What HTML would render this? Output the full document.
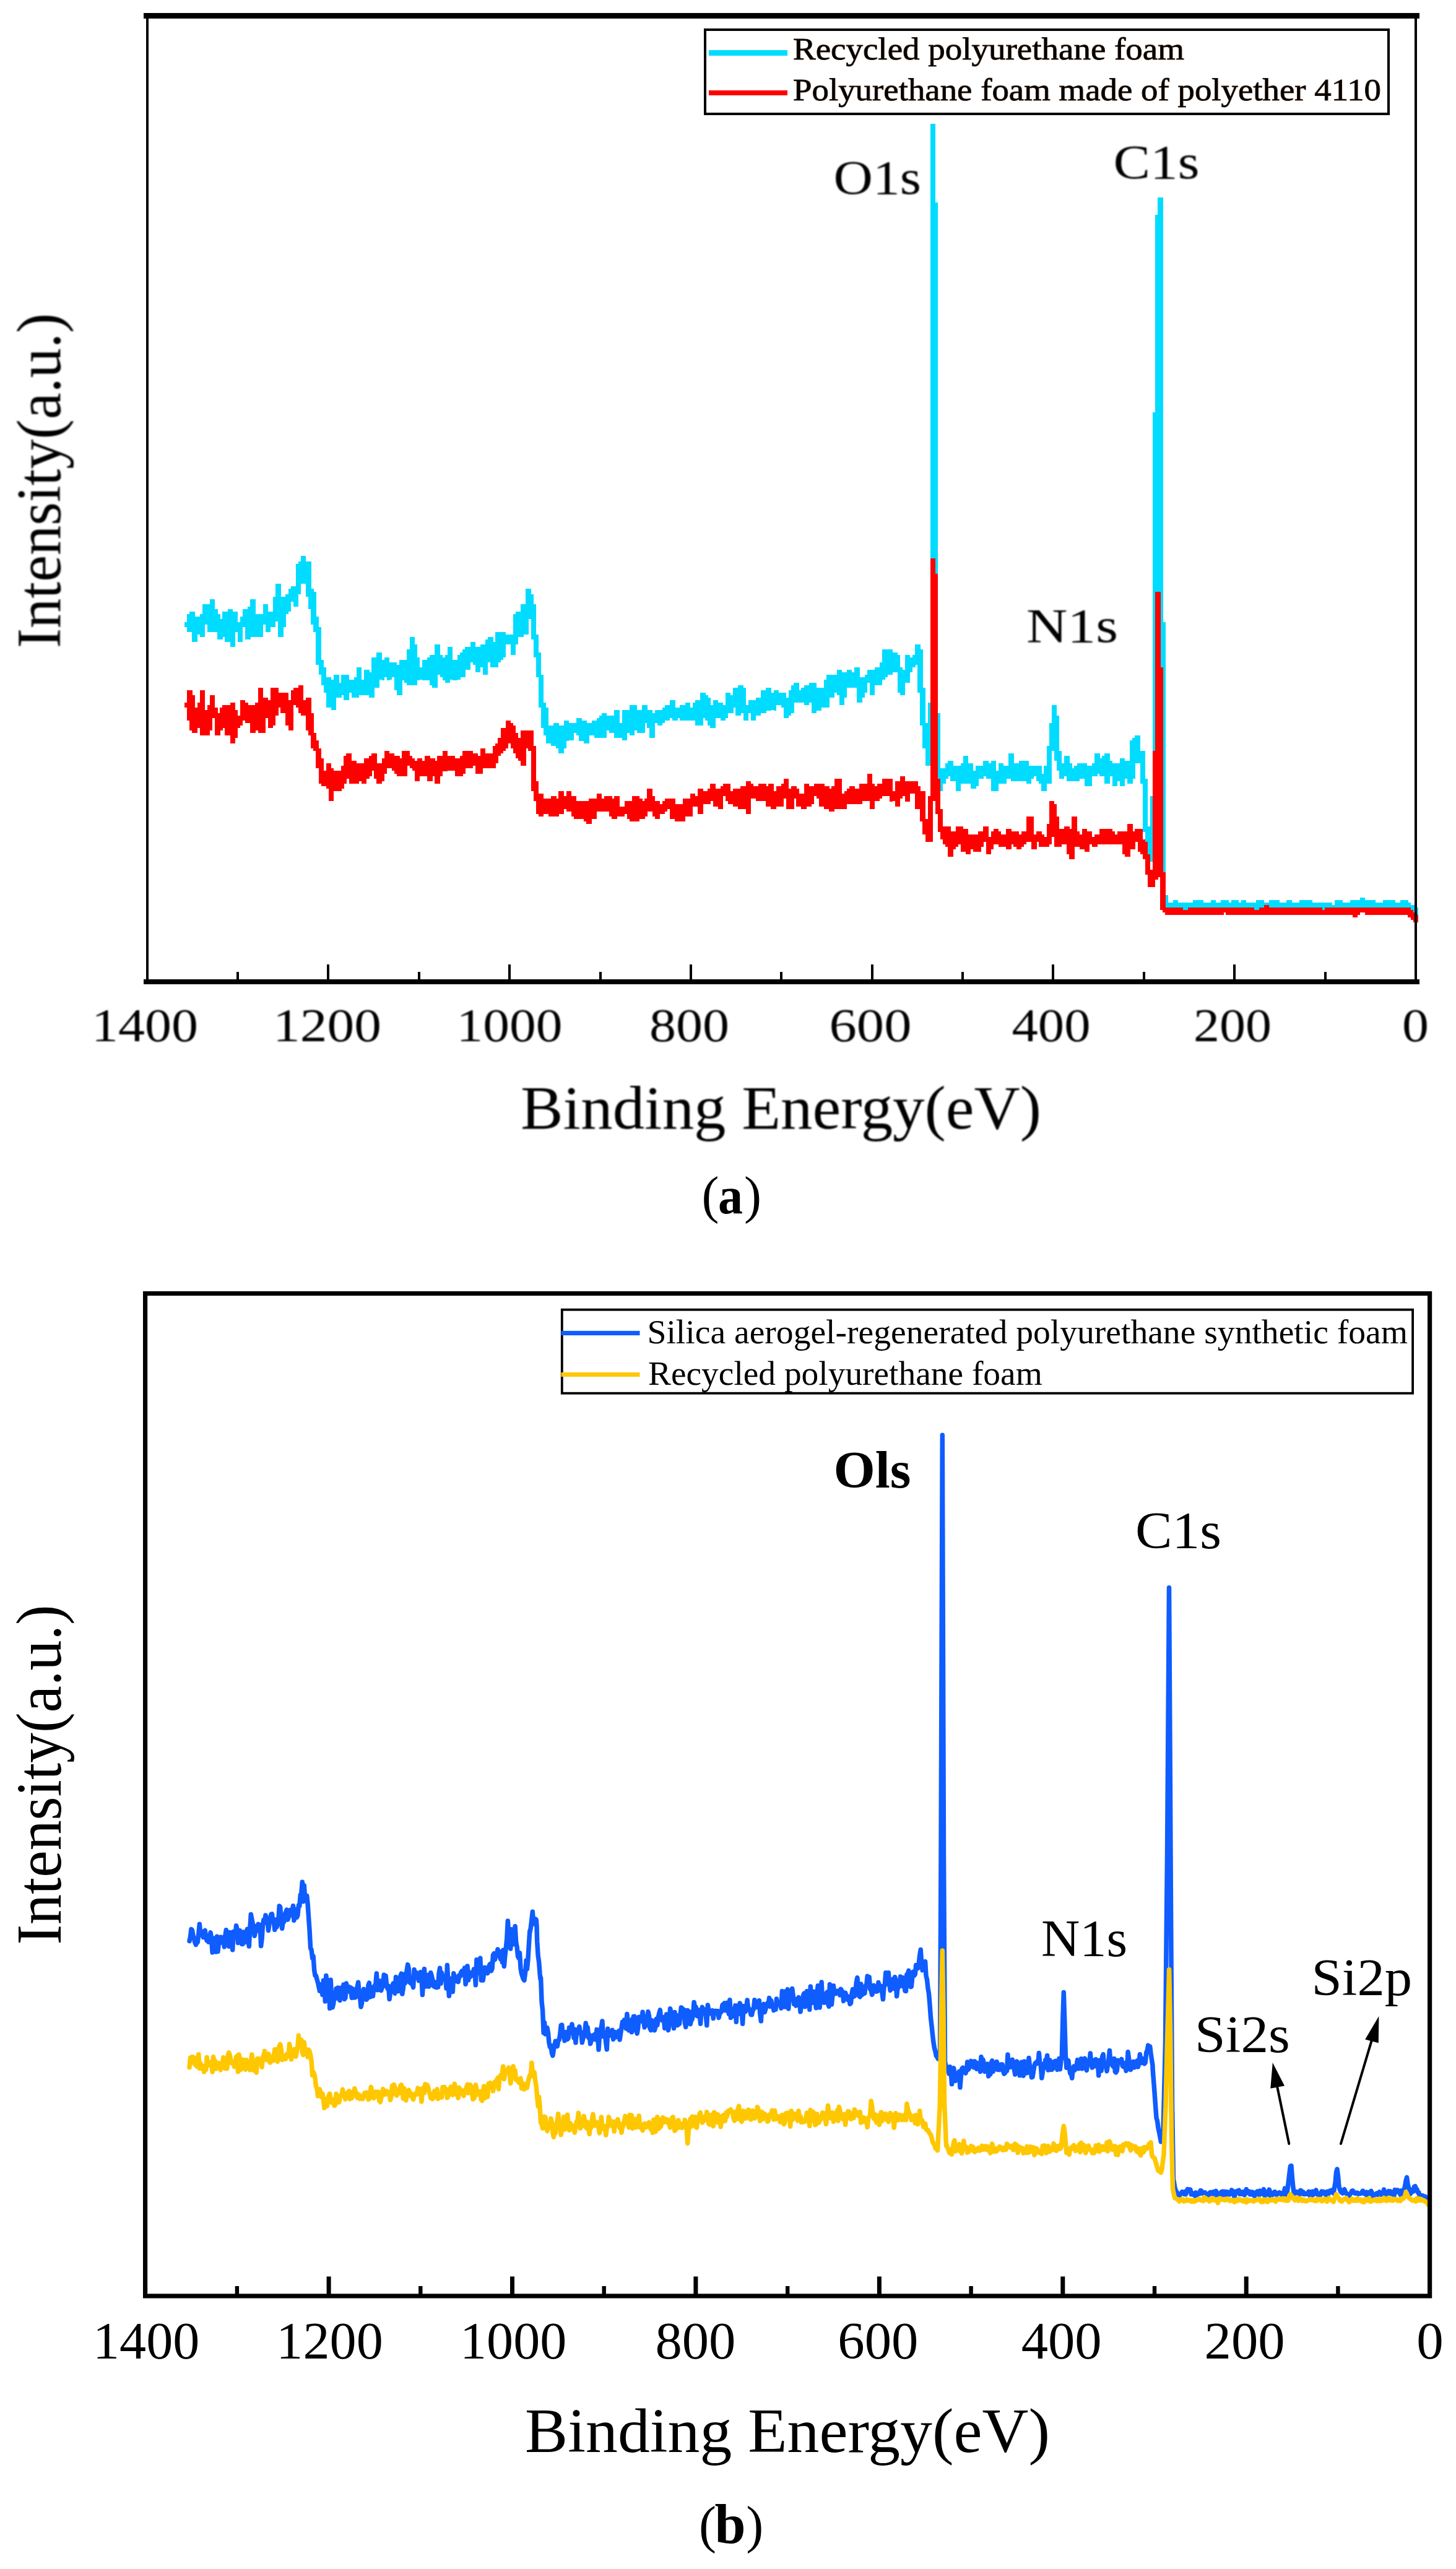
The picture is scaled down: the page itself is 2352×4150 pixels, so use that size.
<!DOCTYPE html>
<html lang="en"><head><meta charset="utf-8"><title>XPS survey spectra</title>
<style>html,body{margin:0;padding:0;background:#fff}svg{display:block}text{font-family:"Liberation Serif", "DejaVu Serif", serif;fill:#000}</style></head><body>
<svg width="2352" height="4150" viewBox="0 0 2352 4150">
<rect width="2352" height="4150" fill="#fff"/>
<defs><filter id="soft" x="-5%" y="-20%" width="110%" height="140%"><feGaussianBlur stdDeviation="1.25"/></filter></defs>
<g id="chart-a">
<g shape-rendering="crispEdges">
<path fill="#00DCFF" d="M298.1 1004.5h4.4v8.2h-4.4zM302.2 992.2h4.4v28.6h-4.4zM306.2 988.2h4.4v32.7h-4.4zM310.3 988.2h4.4v49.0h-4.4zM314.4 996.3h4.4v40.8h-4.4zM318.5 996.3h4.4v28.6h-4.4zM322.6 992.2h4.4v36.8h-4.4zM326.7 975.9h4.4v53.1h-4.4zM330.8 975.9h4.4v32.7h-4.4zM334.8 975.9h4.4v44.9h-4.4zM338.9 967.7h4.4v53.1h-4.4zM343.0 967.7h4.4v53.1h-4.4zM347.1 984.1h4.4v36.8h-4.4zM351.2 992.2h4.4v40.8h-4.4zM355.2 1000.4h4.4v32.7h-4.4zM359.3 988.2h4.4v40.8h-4.4zM363.4 988.2h4.4v49.0h-4.4zM367.5 984.1h4.4v53.1h-4.4zM371.6 984.1h4.4v61.2h-4.4zM375.7 988.2h4.4v57.2h-4.4zM379.8 988.2h4.4v32.7h-4.4zM383.8 1004.5h4.4v32.7h-4.4zM387.9 996.3h4.4v40.8h-4.4zM392.0 984.1h4.4v28.6h-4.4zM396.1 984.1h4.4v49.0h-4.4zM400.2 980.0h4.4v53.1h-4.4zM404.2 967.7h4.4v61.2h-4.4zM408.3 967.7h4.4v61.2h-4.4zM412.4 992.2h4.4v36.8h-4.4zM416.5 992.2h4.4v36.8h-4.4zM420.6 992.2h4.4v36.8h-4.4zM424.7 975.9h4.4v32.7h-4.4zM428.7 975.9h4.4v44.9h-4.4zM432.8 988.2h4.4v32.7h-4.4zM436.9 988.2h4.4v24.5h-4.4zM441.0 963.7h4.4v49.0h-4.4zM445.1 943.2h4.4v61.2h-4.4zM449.2 943.2h4.4v85.8h-4.4zM453.2 963.7h4.4v65.3h-4.4zM457.3 963.7h4.4v49.0h-4.4zM461.4 959.6h4.4v32.7h-4.4zM465.5 951.4h4.4v36.8h-4.4zM469.6 947.3h4.4v24.5h-4.4zM473.7 947.3h4.4v32.7h-4.4zM477.7 910.6h4.4v69.4h-4.4zM481.8 906.5h4.4v53.1h-4.4zM485.9 898.3h4.4v44.9h-4.4zM490.0 898.3h4.4v44.9h-4.4zM494.1 906.5h4.4v57.2h-4.4zM498.2 906.5h4.4v77.6h-4.4zM502.2 951.4h4.4v57.2h-4.4zM506.3 955.5h4.4v65.3h-4.4zM510.4 996.3h4.4v77.6h-4.4zM514.5 1012.7h4.4v77.6h-4.4zM518.6 1065.8h4.4v40.8h-4.4zM522.7 1078.0h4.4v40.8h-4.4zM526.8 1094.3h4.4v49.0h-4.4zM530.8 1094.3h4.4v49.0h-4.4zM534.9 1098.4h4.4v49.0h-4.4zM539.0 1090.2h4.4v57.2h-4.4zM543.1 1090.2h4.4v36.8h-4.4zM547.2 1102.5h4.4v24.5h-4.4zM551.2 1090.2h4.4v32.7h-4.4zM555.3 1090.2h4.4v40.8h-4.4zM559.4 1090.2h4.4v40.8h-4.4zM563.5 1098.4h4.4v20.4h-4.4zM567.6 1098.4h4.4v28.6h-4.4zM571.7 1094.3h4.4v32.7h-4.4zM575.8 1078.0h4.4v49.0h-4.4zM579.8 1078.0h4.4v44.9h-4.4zM583.9 1098.4h4.4v24.5h-4.4zM588.0 1082.1h4.4v40.8h-4.4zM592.1 1082.1h4.4v40.8h-4.4zM596.2 1086.2h4.4v40.8h-4.4zM600.2 1061.7h4.4v65.3h-4.4zM604.3 1061.7h4.4v49.0h-4.4zM608.4 1053.5h4.4v57.2h-4.4zM612.5 1053.5h4.4v44.9h-4.4zM616.6 1065.8h4.4v32.7h-4.4zM620.7 1061.7h4.4v32.7h-4.4zM624.8 1061.7h4.4v36.8h-4.4zM628.8 1069.8h4.4v28.6h-4.4zM632.9 1069.8h4.4v24.5h-4.4zM637.0 1069.8h4.4v44.9h-4.4zM641.1 1073.9h4.4v49.0h-4.4zM645.2 1065.8h4.4v57.2h-4.4zM649.2 1065.8h4.4v32.7h-4.4zM653.3 1065.8h4.4v36.8h-4.4zM657.4 1049.4h4.4v57.2h-4.4zM661.5 1029.0h4.4v77.6h-4.4zM665.6 1029.0h4.4v77.6h-4.4zM669.7 1041.2h4.4v65.3h-4.4zM673.8 1061.7h4.4v36.8h-4.4zM677.8 1078.0h4.4v20.4h-4.4zM681.9 1065.8h4.4v32.7h-4.4zM686.0 1065.8h4.4v32.7h-4.4zM690.1 1061.7h4.4v36.8h-4.4zM694.2 1057.6h4.4v49.0h-4.4zM698.2 1057.6h4.4v53.1h-4.4zM702.3 1041.2h4.4v69.4h-4.4zM706.4 1041.2h4.4v49.0h-4.4zM710.5 1057.6h4.4v36.8h-4.4zM714.6 1061.7h4.4v36.8h-4.4zM718.7 1057.6h4.4v44.9h-4.4zM722.8 1045.3h4.4v57.2h-4.4zM726.8 1045.3h4.4v53.1h-4.4zM730.9 1065.8h4.4v32.7h-4.4zM735.0 1065.8h4.4v32.7h-4.4zM739.1 1057.6h4.4v40.8h-4.4zM743.2 1053.5h4.4v40.8h-4.4zM747.2 1049.4h4.4v44.9h-4.4zM751.3 1045.3h4.4v36.8h-4.4zM755.4 1045.3h4.4v36.8h-4.4zM759.5 1037.2h4.4v32.7h-4.4zM763.6 1037.2h4.4v36.8h-4.4zM767.7 1045.3h4.4v40.8h-4.4zM771.8 1045.3h4.4v40.8h-4.4zM775.8 1041.2h4.4v36.8h-4.4zM779.9 1041.2h4.4v49.0h-4.4zM784.0 1033.1h4.4v57.2h-4.4zM788.1 1029.0h4.4v40.8h-4.4zM792.2 1029.0h4.4v49.0h-4.4zM796.2 1037.2h4.4v40.8h-4.4zM800.3 1020.8h4.4v57.2h-4.4zM804.4 1020.8h4.4v49.0h-4.4zM808.5 1020.8h4.4v44.9h-4.4zM812.6 1020.8h4.4v40.8h-4.4zM816.7 1024.9h4.4v16.3h-4.4zM820.7 1024.9h4.4v16.3h-4.4zM824.8 1024.9h4.4v32.7h-4.4zM828.9 992.2h4.4v65.3h-4.4zM833.0 988.2h4.4v53.1h-4.4zM837.1 988.2h4.4v40.8h-4.4zM841.2 975.9h4.4v53.1h-4.4zM845.2 975.9h4.4v49.0h-4.4zM849.3 951.4h4.4v73.5h-4.4zM853.4 951.4h4.4v49.0h-4.4zM857.5 959.6h4.4v73.5h-4.4zM861.6 975.9h4.4v85.8h-4.4zM865.7 1024.9h4.4v69.4h-4.4zM869.7 1053.5h4.4v89.8h-4.4zM873.8 1090.2h4.4v85.8h-4.4zM877.9 1135.2h4.4v53.1h-4.4zM882.0 1143.3h4.4v57.2h-4.4zM886.1 1171.9h4.4v28.6h-4.4zM890.2 1171.9h4.4v32.7h-4.4zM894.2 1167.8h4.4v36.8h-4.4zM898.3 1167.8h4.4v40.8h-4.4zM902.4 1171.9h4.4v44.9h-4.4zM906.5 1171.9h4.4v44.9h-4.4zM910.6 1163.8h4.4v44.9h-4.4zM914.7 1163.8h4.4v32.7h-4.4zM918.7 1167.8h4.4v28.6h-4.4zM922.8 1167.8h4.4v28.6h-4.4zM926.9 1167.8h4.4v16.3h-4.4zM931.0 1159.7h4.4v28.6h-4.4zM935.1 1159.7h4.4v36.8h-4.4zM939.2 1163.8h4.4v32.7h-4.4zM943.2 1163.8h4.4v36.8h-4.4zM947.3 1167.8h4.4v32.7h-4.4zM951.4 1167.8h4.4v20.4h-4.4zM955.5 1163.8h4.4v24.5h-4.4zM959.6 1163.8h4.4v28.6h-4.4zM963.7 1159.7h4.4v32.7h-4.4zM967.7 1155.6h4.4v36.8h-4.4zM971.8 1151.5h4.4v40.8h-4.4zM975.9 1151.5h4.4v40.8h-4.4zM980.0 1155.6h4.4v24.5h-4.4zM984.1 1155.6h4.4v28.6h-4.4zM988.2 1155.6h4.4v28.6h-4.4zM992.2 1147.4h4.4v44.9h-4.4zM996.3 1147.4h4.4v44.9h-4.4zM1000.4 1167.8h4.4v24.5h-4.4zM1004.5 1147.4h4.4v49.0h-4.4zM1008.6 1147.4h4.4v49.0h-4.4zM1012.7 1147.4h4.4v36.8h-4.4zM1016.7 1139.2h4.4v49.0h-4.4zM1020.8 1139.2h4.4v49.0h-4.4zM1024.9 1139.2h4.4v40.8h-4.4zM1029.0 1147.4h4.4v36.8h-4.4zM1033.1 1147.4h4.4v36.8h-4.4zM1037.2 1139.2h4.4v44.9h-4.4zM1041.2 1139.2h4.4v28.6h-4.4zM1045.3 1147.4h4.4v28.6h-4.4zM1049.4 1147.4h4.4v44.9h-4.4zM1053.5 1151.5h4.4v40.8h-4.4zM1057.6 1147.4h4.4v20.4h-4.4zM1061.7 1147.4h4.4v24.5h-4.4zM1065.8 1147.4h4.4v24.5h-4.4zM1069.8 1143.3h4.4v24.5h-4.4zM1073.9 1139.2h4.4v24.5h-4.4zM1078.0 1139.2h4.4v24.5h-4.4zM1082.1 1131.1h4.4v28.6h-4.4zM1086.2 1131.1h4.4v32.7h-4.4zM1090.2 1143.3h4.4v20.4h-4.4zM1094.3 1143.3h4.4v16.3h-4.4zM1098.4 1139.2h4.4v24.5h-4.4zM1102.5 1139.2h4.4v24.5h-4.4zM1106.6 1135.2h4.4v28.6h-4.4zM1110.7 1135.2h4.4v28.6h-4.4zM1114.8 1143.3h4.4v20.4h-4.4zM1118.8 1135.2h4.4v28.6h-4.4zM1122.9 1131.1h4.4v40.8h-4.4zM1127.0 1131.1h4.4v40.8h-4.4zM1131.1 1118.8h4.4v53.1h-4.4zM1135.2 1118.8h4.4v40.8h-4.4zM1139.2 1122.9h4.4v40.8h-4.4zM1143.3 1127.0h4.4v44.9h-4.4zM1147.4 1139.2h4.4v36.8h-4.4zM1151.5 1131.1h4.4v44.9h-4.4zM1155.6 1131.1h4.4v28.6h-4.4zM1159.7 1135.2h4.4v24.5h-4.4zM1163.8 1135.2h4.4v28.6h-4.4zM1167.8 1139.2h4.4v24.5h-4.4zM1171.9 1118.8h4.4v40.8h-4.4zM1176.0 1118.8h4.4v32.7h-4.4zM1180.1 1122.9h4.4v28.6h-4.4zM1184.2 1110.7h4.4v32.7h-4.4zM1188.2 1110.7h4.4v44.9h-4.4zM1192.3 1106.6h4.4v49.0h-4.4zM1196.4 1106.6h4.4v44.9h-4.4zM1200.5 1110.7h4.4v53.1h-4.4zM1204.6 1139.2h4.4v24.5h-4.4zM1208.7 1131.1h4.4v20.4h-4.4zM1212.8 1131.1h4.4v32.7h-4.4zM1216.8 1131.1h4.4v32.7h-4.4zM1220.9 1127.0h4.4v28.6h-4.4zM1225.0 1127.0h4.4v28.6h-4.4zM1229.1 1114.8h4.4v36.8h-4.4zM1233.2 1114.8h4.4v36.8h-4.4zM1237.2 1110.7h4.4v36.8h-4.4zM1241.3 1110.7h4.4v36.8h-4.4zM1245.4 1118.8h4.4v28.6h-4.4zM1249.5 1114.8h4.4v32.7h-4.4zM1253.6 1114.8h4.4v24.5h-4.4zM1257.7 1118.8h4.4v20.4h-4.4zM1261.8 1118.8h4.4v24.5h-4.4zM1265.8 1118.8h4.4v40.8h-4.4zM1269.9 1127.0h4.4v32.7h-4.4zM1274.0 1114.8h4.4v40.8h-4.4zM1278.1 1106.6h4.4v44.9h-4.4zM1282.2 1102.5h4.4v32.7h-4.4zM1286.2 1102.5h4.4v32.7h-4.4zM1290.3 1114.8h4.4v20.4h-4.4zM1294.4 1110.7h4.4v24.5h-4.4zM1298.5 1106.6h4.4v32.7h-4.4zM1302.6 1106.6h4.4v32.7h-4.4zM1306.7 1102.5h4.4v32.7h-4.4zM1310.8 1102.5h4.4v49.0h-4.4zM1314.8 1102.5h4.4v49.0h-4.4zM1318.9 1110.7h4.4v36.8h-4.4zM1323.0 1110.7h4.4v36.8h-4.4zM1327.1 1110.7h4.4v32.7h-4.4zM1331.2 1098.4h4.4v44.9h-4.4zM1335.2 1090.2h4.4v53.1h-4.4zM1339.3 1090.2h4.4v36.8h-4.4zM1343.4 1090.2h4.4v36.8h-4.4zM1347.5 1090.2h4.4v28.6h-4.4zM1351.6 1082.1h4.4v40.8h-4.4zM1355.7 1082.1h4.4v57.2h-4.4zM1359.8 1086.2h4.4v53.1h-4.4zM1363.8 1086.2h4.4v40.8h-4.4zM1367.9 1082.1h4.4v28.6h-4.4zM1372.0 1082.1h4.4v28.6h-4.4zM1376.1 1086.2h4.4v24.5h-4.4zM1380.2 1078.0h4.4v32.7h-4.4zM1384.2 1078.0h4.4v57.2h-4.4zM1388.3 1094.3h4.4v40.8h-4.4zM1392.4 1094.3h4.4v32.7h-4.4zM1396.5 1090.2h4.4v28.6h-4.4zM1400.6 1082.1h4.4v20.4h-4.4zM1404.7 1082.1h4.4v40.8h-4.4zM1408.8 1082.1h4.4v40.8h-4.4zM1412.8 1078.0h4.4v28.6h-4.4zM1416.9 1078.0h4.4v28.6h-4.4zM1421.0 1069.8h4.4v36.8h-4.4zM1425.1 1049.4h4.4v49.0h-4.4zM1429.2 1049.4h4.4v44.9h-4.4zM1433.2 1049.4h4.4v40.8h-4.4zM1437.3 1049.4h4.4v40.8h-4.4zM1441.4 1053.5h4.4v32.7h-4.4zM1445.5 1053.5h4.4v32.7h-4.4zM1449.6 1057.6h4.4v61.2h-4.4zM1453.7 1078.0h4.4v44.9h-4.4zM1457.8 1082.1h4.4v40.8h-4.4zM1461.8 1057.6h4.4v44.9h-4.4zM1465.9 1057.6h4.4v44.9h-4.4zM1470.0 1061.7h4.4v24.5h-4.4zM1474.1 1057.6h4.4v20.4h-4.4zM1478.2 1041.2h4.4v32.7h-4.4zM1482.2 1041.2h4.4v77.6h-4.4zM1486.3 1049.4h4.4v122.5h-4.4zM1490.4 1110.7h4.4v98.0h-4.4zM1494.5 1167.8h4.4v69.4h-4.4zM1498.6 1135.2h4.4v102.1h-4.4zM1502.7 200.1h4.4v1037.2h-4.4zM1506.8 200.1h4.4v959.6h-4.4zM1510.8 326.7h4.4v935.1h-4.4zM1514.9 1151.5h4.4v126.6h-4.4zM1519.0 1241.3h4.4v36.8h-4.4zM1523.1 1241.3h4.4v24.5h-4.4zM1527.2 1233.2h4.4v24.5h-4.4zM1531.2 1229.1h4.4v24.5h-4.4zM1535.3 1229.1h4.4v32.7h-4.4zM1539.4 1237.2h4.4v24.5h-4.4zM1543.5 1237.2h4.4v40.8h-4.4zM1547.6 1237.2h4.4v40.8h-4.4zM1551.7 1233.2h4.4v32.7h-4.4zM1555.8 1220.9h4.4v44.9h-4.4zM1559.8 1220.9h4.4v44.9h-4.4zM1563.9 1233.2h4.4v32.7h-4.4zM1568.0 1233.2h4.4v40.8h-4.4zM1572.1 1245.4h4.4v28.6h-4.4zM1576.2 1237.2h4.4v32.7h-4.4zM1580.2 1237.2h4.4v20.4h-4.4zM1584.3 1237.2h4.4v20.4h-4.4zM1588.4 1229.1h4.4v24.5h-4.4zM1592.5 1229.1h4.4v28.6h-4.4zM1596.6 1233.2h4.4v24.5h-4.4zM1600.7 1229.1h4.4v49.0h-4.4zM1604.7 1229.1h4.4v49.0h-4.4zM1608.8 1245.4h4.4v32.7h-4.4zM1612.9 1233.2h4.4v32.7h-4.4zM1617.0 1233.2h4.4v32.7h-4.4zM1621.1 1237.2h4.4v28.6h-4.4zM1625.2 1237.2h4.4v20.4h-4.4zM1629.2 1216.8h4.4v40.8h-4.4zM1633.3 1216.8h4.4v44.9h-4.4zM1637.4 1233.2h4.4v28.6h-4.4zM1641.5 1233.2h4.4v28.6h-4.4zM1645.6 1229.1h4.4v32.7h-4.4zM1649.7 1229.1h4.4v32.7h-4.4zM1653.7 1229.1h4.4v32.7h-4.4zM1657.8 1229.1h4.4v36.8h-4.4zM1661.9 1237.2h4.4v28.6h-4.4zM1666.0 1237.2h4.4v20.4h-4.4zM1670.1 1237.2h4.4v16.3h-4.4zM1674.2 1237.2h4.4v24.5h-4.4zM1678.2 1237.2h4.4v28.6h-4.4zM1682.3 1249.5h4.4v28.6h-4.4zM1686.4 1237.2h4.4v40.8h-4.4zM1690.5 1204.6h4.4v61.2h-4.4zM1694.6 1167.8h4.4v98.0h-4.4zM1698.7 1139.2h4.4v73.5h-4.4zM1702.7 1139.2h4.4v89.8h-4.4zM1706.8 1155.6h4.4v89.8h-4.4zM1710.9 1212.8h4.4v44.9h-4.4zM1715.0 1233.2h4.4v24.5h-4.4zM1719.1 1220.9h4.4v32.7h-4.4zM1723.2 1220.9h4.4v40.8h-4.4zM1727.2 1233.2h4.4v28.6h-4.4zM1731.3 1241.3h4.4v20.4h-4.4zM1735.4 1237.2h4.4v24.5h-4.4zM1739.5 1233.2h4.4v28.6h-4.4zM1743.6 1233.2h4.4v24.5h-4.4zM1747.7 1233.2h4.4v24.5h-4.4zM1751.7 1233.2h4.4v36.8h-4.4zM1755.8 1237.2h4.4v32.7h-4.4zM1759.9 1237.2h4.4v32.7h-4.4zM1764.0 1233.2h4.4v20.4h-4.4zM1768.1 1216.8h4.4v36.8h-4.4zM1772.2 1216.8h4.4v32.7h-4.4zM1776.2 1225.0h4.4v28.6h-4.4zM1780.3 1220.9h4.4v32.7h-4.4zM1784.4 1216.8h4.4v49.0h-4.4zM1788.5 1216.8h4.4v49.0h-4.4zM1792.6 1229.1h4.4v24.5h-4.4zM1796.7 1233.2h4.4v36.8h-4.4zM1800.7 1233.2h4.4v36.8h-4.4zM1804.8 1233.2h4.4v28.6h-4.4zM1808.9 1225.0h4.4v44.9h-4.4zM1813.0 1225.0h4.4v44.9h-4.4zM1817.1 1229.1h4.4v28.6h-4.4zM1821.2 1229.1h4.4v36.8h-4.4zM1825.2 1196.4h4.4v69.4h-4.4zM1829.3 1192.3h4.4v65.3h-4.4zM1833.4 1188.2h4.4v44.9h-4.4zM1837.5 1188.2h4.4v44.9h-4.4zM1841.6 1212.8h4.4v53.1h-4.4zM1845.7 1212.8h4.4v130.7h-4.4zM1849.7 1257.7h4.4v118.4h-4.4zM1853.8 1335.2h4.4v57.2h-4.4zM1857.9 1286.2h4.4v106.2h-4.4zM1862.0 665.6h4.4v726.8h-4.4zM1866.1 347.1h4.4v947.3h-4.4zM1870.2 318.5h4.4v694.2h-4.4zM1874.2 318.5h4.4v1135.2h-4.4zM1878.3 1004.5h4.4v461.4h-4.4zM1882.4 1445.5h4.4v20.4h-4.4zM1886.5 1457.8h4.4v8.2h-4.4zM1890.6 1457.8h4.4v12.2h-4.4zM1894.7 1453.7h4.4v16.3h-4.4zM1898.7 1453.7h4.4v12.2h-4.4zM1902.8 1457.8h4.4v12.2h-4.4zM1906.9 1457.8h4.4v12.2h-4.4zM1911.0 1457.8h4.4v12.2h-4.4zM1915.1 1457.8h4.4v12.2h-4.4zM1919.2 1457.8h4.4v12.2h-4.4zM1923.2 1457.8h4.4v12.2h-4.4zM1927.3 1453.7h4.4v16.3h-4.4zM1931.4 1453.7h4.4v16.3h-4.4zM1935.5 1453.7h4.4v16.3h-4.4zM1939.6 1453.7h4.4v16.3h-4.4zM1943.7 1457.8h4.4v16.3h-4.4zM1947.7 1457.8h4.4v16.3h-4.4zM1951.8 1457.8h4.4v16.3h-4.4zM1955.9 1453.7h4.4v16.3h-4.4zM1960.0 1453.7h4.4v20.4h-4.4zM1964.1 1457.8h4.4v16.3h-4.4zM1968.2 1457.8h4.4v12.2h-4.4zM1972.2 1453.7h4.4v16.3h-4.4zM1976.3 1453.7h4.4v12.2h-4.4zM1980.4 1453.7h4.4v12.2h-4.4zM1984.5 1457.8h4.4v12.2h-4.4zM1988.6 1453.7h4.4v16.3h-4.4zM1992.7 1453.7h4.4v16.3h-4.4zM1996.7 1453.7h4.4v16.3h-4.4zM2000.8 1457.8h4.4v8.2h-4.4zM2004.9 1453.7h4.4v12.2h-4.4zM2009.0 1453.7h4.4v16.3h-4.4zM2013.1 1457.8h4.4v12.2h-4.4zM2017.2 1457.8h4.4v12.2h-4.4zM2021.2 1457.8h4.4v16.3h-4.4zM2025.3 1457.8h4.4v16.3h-4.4zM2029.4 1453.7h4.4v16.3h-4.4zM2033.5 1453.7h4.4v16.3h-4.4zM2037.6 1453.7h4.4v16.3h-4.4zM2041.7 1457.8h4.4v12.2h-4.4zM2045.7 1457.8h4.4v16.3h-4.4zM2049.8 1453.7h4.4v20.4h-4.4zM2053.9 1453.7h4.4v20.4h-4.4zM2058.0 1453.7h4.4v16.3h-4.4zM2062.1 1453.7h4.4v16.3h-4.4zM2066.2 1457.8h4.4v12.2h-4.4zM2070.2 1457.8h4.4v12.2h-4.4zM2074.3 1457.8h4.4v12.2h-4.4zM2078.4 1453.7h4.4v16.3h-4.4zM2082.5 1453.7h4.4v16.3h-4.4zM2086.6 1457.8h4.4v12.2h-4.4zM2090.7 1457.8h4.4v12.2h-4.4zM2094.8 1457.8h4.4v12.2h-4.4zM2098.8 1453.7h4.4v16.3h-4.4zM2102.9 1453.7h4.4v16.3h-4.4zM2107.0 1453.7h4.4v16.3h-4.4zM2111.1 1453.7h4.4v20.4h-4.4zM2115.2 1453.7h4.4v20.4h-4.4zM2119.2 1457.8h4.4v12.2h-4.4zM2123.3 1457.8h4.4v12.2h-4.4zM2127.4 1457.8h4.4v16.3h-4.4zM2131.5 1457.8h4.4v16.3h-4.4zM2135.6 1457.8h4.4v16.3h-4.4zM2139.7 1457.8h4.4v12.2h-4.4zM2143.8 1457.8h4.4v12.2h-4.4zM2147.8 1457.8h4.4v12.2h-4.4zM2151.9 1461.8h4.4v12.2h-4.4zM2156.0 1453.7h4.4v20.4h-4.4zM2160.1 1453.7h4.4v16.3h-4.4zM2164.2 1453.7h4.4v16.3h-4.4zM2168.2 1457.8h4.4v16.3h-4.4zM2172.3 1457.8h4.4v16.3h-4.4zM2176.4 1457.8h4.4v12.2h-4.4zM2180.5 1453.7h4.4v16.3h-4.4zM2184.6 1453.7h4.4v16.3h-4.4zM2188.7 1453.7h4.4v16.3h-4.4zM2192.8 1453.7h4.4v16.3h-4.4zM2196.8 1449.6h4.4v20.4h-4.4zM2200.9 1449.6h4.4v20.4h-4.4zM2205.0 1453.7h4.4v16.3h-4.4zM2209.1 1453.7h4.4v20.4h-4.4zM2213.2 1453.7h4.4v20.4h-4.4zM2217.2 1453.7h4.4v20.4h-4.4zM2221.3 1457.8h4.4v16.3h-4.4zM2225.4 1457.8h4.4v12.2h-4.4zM2229.5 1457.8h4.4v12.2h-4.4zM2233.6 1453.7h4.4v16.3h-4.4zM2237.7 1453.7h4.4v16.3h-4.4zM2241.8 1453.7h4.4v12.2h-4.4zM2245.8 1453.7h4.4v12.2h-4.4zM2249.9 1453.7h4.4v20.4h-4.4zM2254.0 1457.8h4.4v16.3h-4.4zM2258.1 1457.8h4.4v12.2h-4.4zM2262.2 1453.7h4.4v16.3h-4.4zM2266.2 1453.7h4.4v16.3h-4.4zM2270.3 1453.7h4.4v16.3h-4.4zM2274.4 1457.8h4.4v16.3h-4.4zM2278.5 1461.8h4.4v12.2h-4.4zM2282.6 1461.8h4.4v16.3h-4.4zM2286.7 1465.9h4.4v12.2h-4.4z"/>
<path fill="#FF0000" d="M298.1 1135.2h4.4v8.2h-4.4zM302.2 1114.8h4.4v49.0h-4.4zM306.2 1114.8h4.4v65.3h-4.4zM310.3 1122.9h4.4v61.2h-4.4zM314.4 1143.3h4.4v40.8h-4.4zM318.5 1135.2h4.4v40.8h-4.4zM322.6 1114.8h4.4v73.5h-4.4zM326.7 1114.8h4.4v73.5h-4.4zM330.8 1147.4h4.4v40.8h-4.4zM334.8 1139.2h4.4v49.0h-4.4zM338.9 1122.9h4.4v57.2h-4.4zM343.0 1122.9h4.4v36.8h-4.4zM347.1 1143.3h4.4v44.9h-4.4zM351.2 1151.5h4.4v36.8h-4.4zM355.2 1143.3h4.4v36.8h-4.4zM359.3 1139.2h4.4v36.8h-4.4zM363.4 1139.2h4.4v49.0h-4.4zM367.5 1139.2h4.4v49.0h-4.4zM371.6 1135.2h4.4v65.3h-4.4zM375.7 1135.2h4.4v65.3h-4.4zM379.8 1147.4h4.4v44.9h-4.4zM383.8 1155.6h4.4v20.4h-4.4zM387.9 1131.1h4.4v40.8h-4.4zM392.0 1131.1h4.4v32.7h-4.4zM396.1 1135.2h4.4v32.7h-4.4zM400.2 1139.2h4.4v28.6h-4.4zM404.2 1139.2h4.4v44.9h-4.4zM408.3 1139.2h4.4v44.9h-4.4zM412.4 1135.2h4.4v44.9h-4.4zM416.5 1110.7h4.4v73.5h-4.4zM420.6 1110.7h4.4v73.5h-4.4zM424.7 1127.0h4.4v57.2h-4.4zM428.7 1127.0h4.4v32.7h-4.4zM432.8 1131.1h4.4v44.9h-4.4zM436.9 1110.7h4.4v65.3h-4.4zM441.0 1110.7h4.4v61.2h-4.4zM445.1 1110.7h4.4v44.9h-4.4zM449.2 1118.8h4.4v24.5h-4.4zM453.2 1118.8h4.4v32.7h-4.4zM457.3 1118.8h4.4v32.7h-4.4zM461.4 1118.8h4.4v53.1h-4.4zM465.5 1131.1h4.4v49.0h-4.4zM469.6 1114.8h4.4v65.3h-4.4zM473.7 1110.7h4.4v28.6h-4.4zM477.7 1110.7h4.4v32.7h-4.4zM481.8 1106.6h4.4v44.9h-4.4zM485.9 1106.6h4.4v49.0h-4.4zM490.0 1131.1h4.4v24.5h-4.4zM494.1 1127.0h4.4v53.1h-4.4zM498.2 1127.0h4.4v61.2h-4.4zM502.2 1151.5h4.4v57.2h-4.4zM506.3 1184.2h4.4v28.6h-4.4zM510.4 1196.4h4.4v44.9h-4.4zM514.5 1208.7h4.4v57.2h-4.4zM518.6 1225.0h4.4v44.9h-4.4zM522.7 1245.4h4.4v24.5h-4.4zM526.8 1233.2h4.4v40.8h-4.4zM530.8 1233.2h4.4v61.2h-4.4zM534.9 1241.3h4.4v53.1h-4.4zM539.0 1245.4h4.4v32.7h-4.4zM543.1 1245.4h4.4v32.7h-4.4zM547.2 1245.4h4.4v32.7h-4.4zM551.2 1237.2h4.4v36.8h-4.4zM555.3 1220.9h4.4v44.9h-4.4zM559.4 1216.8h4.4v40.8h-4.4zM563.5 1216.8h4.4v49.0h-4.4zM567.6 1229.1h4.4v36.8h-4.4zM571.7 1229.1h4.4v36.8h-4.4zM575.8 1233.2h4.4v32.7h-4.4zM579.8 1233.2h4.4v28.6h-4.4zM583.9 1233.2h4.4v32.7h-4.4zM588.0 1225.0h4.4v40.8h-4.4zM592.1 1225.0h4.4v32.7h-4.4zM596.2 1220.9h4.4v32.7h-4.4zM600.2 1216.8h4.4v28.6h-4.4zM604.3 1216.8h4.4v40.8h-4.4zM608.4 1233.2h4.4v32.7h-4.4zM612.5 1233.2h4.4v32.7h-4.4zM616.6 1225.0h4.4v36.8h-4.4zM620.7 1212.8h4.4v36.8h-4.4zM624.8 1212.8h4.4v28.6h-4.4zM628.8 1216.8h4.4v24.5h-4.4zM632.9 1216.8h4.4v28.6h-4.4zM637.0 1220.9h4.4v28.6h-4.4zM641.1 1220.9h4.4v32.7h-4.4zM645.2 1225.0h4.4v28.6h-4.4zM649.2 1212.8h4.4v40.8h-4.4zM653.3 1212.8h4.4v40.8h-4.4zM657.4 1212.8h4.4v24.5h-4.4zM661.5 1220.9h4.4v20.4h-4.4zM665.6 1225.0h4.4v20.4h-4.4zM669.7 1229.1h4.4v32.7h-4.4zM673.8 1225.0h4.4v36.8h-4.4zM677.8 1225.0h4.4v28.6h-4.4zM681.9 1229.1h4.4v24.5h-4.4zM686.0 1220.9h4.4v32.7h-4.4zM690.1 1220.9h4.4v40.8h-4.4zM694.2 1225.0h4.4v36.8h-4.4zM698.2 1225.0h4.4v28.6h-4.4zM702.3 1229.1h4.4v36.8h-4.4zM706.4 1220.9h4.4v44.9h-4.4zM710.5 1220.9h4.4v32.7h-4.4zM714.6 1212.8h4.4v32.7h-4.4zM718.7 1212.8h4.4v32.7h-4.4zM722.8 1220.9h4.4v24.5h-4.4zM726.8 1220.9h4.4v24.5h-4.4zM730.9 1220.9h4.4v24.5h-4.4zM735.0 1225.0h4.4v28.6h-4.4zM739.1 1225.0h4.4v28.6h-4.4zM743.2 1220.9h4.4v32.7h-4.4zM747.2 1212.8h4.4v36.8h-4.4zM751.3 1212.8h4.4v28.6h-4.4zM755.4 1212.8h4.4v28.6h-4.4zM759.5 1212.8h4.4v28.6h-4.4zM763.6 1216.8h4.4v20.4h-4.4zM767.7 1216.8h4.4v32.7h-4.4zM771.8 1220.9h4.4v28.6h-4.4zM775.8 1208.7h4.4v40.8h-4.4zM779.9 1208.7h4.4v32.7h-4.4zM784.0 1216.8h4.4v24.5h-4.4zM788.1 1216.8h4.4v24.5h-4.4zM792.2 1216.8h4.4v24.5h-4.4zM796.2 1204.6h4.4v36.8h-4.4zM800.3 1200.5h4.4v32.7h-4.4zM804.4 1192.3h4.4v28.6h-4.4zM808.5 1176.0h4.4v40.8h-4.4zM812.6 1176.0h4.4v36.8h-4.4zM816.7 1163.8h4.4v44.9h-4.4zM820.7 1163.8h4.4v36.8h-4.4zM824.8 1167.8h4.4v40.8h-4.4zM828.9 1171.9h4.4v44.9h-4.4zM833.0 1184.2h4.4v40.8h-4.4zM837.1 1192.3h4.4v36.8h-4.4zM841.2 1180.1h4.4v57.2h-4.4zM845.2 1180.1h4.4v57.2h-4.4zM849.3 1180.1h4.4v28.6h-4.4zM853.4 1180.1h4.4v32.7h-4.4zM857.5 1180.1h4.4v98.0h-4.4zM861.6 1204.6h4.4v89.8h-4.4zM865.7 1261.8h4.4v53.1h-4.4zM869.7 1282.2h4.4v36.8h-4.4zM873.8 1282.2h4.4v36.8h-4.4zM877.9 1290.3h4.4v24.5h-4.4zM882.0 1290.3h4.4v24.5h-4.4zM886.1 1290.3h4.4v28.6h-4.4zM890.2 1286.2h4.4v32.7h-4.4zM894.2 1286.2h4.4v32.7h-4.4zM898.3 1290.3h4.4v28.6h-4.4zM902.4 1278.1h4.4v36.8h-4.4zM906.5 1278.1h4.4v36.8h-4.4zM910.6 1286.2h4.4v20.4h-4.4zM914.7 1278.1h4.4v32.7h-4.4zM918.7 1278.1h4.4v32.7h-4.4zM922.8 1286.2h4.4v32.7h-4.4zM926.9 1286.2h4.4v36.8h-4.4zM931.0 1294.4h4.4v28.6h-4.4zM935.1 1294.4h4.4v28.6h-4.4zM939.2 1294.4h4.4v28.6h-4.4zM943.2 1294.4h4.4v32.7h-4.4zM947.3 1294.4h4.4v36.8h-4.4zM951.4 1290.3h4.4v40.8h-4.4zM955.5 1290.3h4.4v32.7h-4.4zM959.6 1290.3h4.4v32.7h-4.4zM963.7 1282.2h4.4v28.6h-4.4zM967.7 1282.2h4.4v28.6h-4.4zM971.8 1290.3h4.4v20.4h-4.4zM975.9 1286.2h4.4v24.5h-4.4zM980.0 1286.2h4.4v24.5h-4.4zM984.1 1286.2h4.4v32.7h-4.4zM988.2 1290.3h4.4v32.7h-4.4zM992.2 1286.2h4.4v36.8h-4.4zM996.3 1286.2h4.4v32.7h-4.4zM1000.4 1302.6h4.4v16.3h-4.4zM1004.5 1302.6h4.4v16.3h-4.4zM1008.6 1294.4h4.4v20.4h-4.4zM1012.7 1294.4h4.4v28.6h-4.4zM1016.7 1294.4h4.4v32.7h-4.4zM1020.8 1286.2h4.4v40.8h-4.4zM1024.9 1286.2h4.4v40.8h-4.4zM1029.0 1286.2h4.4v40.8h-4.4zM1033.1 1290.3h4.4v32.7h-4.4zM1037.2 1294.4h4.4v28.6h-4.4zM1041.2 1290.3h4.4v28.6h-4.4zM1045.3 1274.0h4.4v36.8h-4.4zM1049.4 1274.0h4.4v36.8h-4.4zM1053.5 1286.2h4.4v32.7h-4.4zM1057.6 1294.4h4.4v28.6h-4.4zM1061.7 1294.4h4.4v28.6h-4.4zM1065.8 1298.5h4.4v16.3h-4.4zM1069.8 1294.4h4.4v20.4h-4.4zM1073.9 1290.3h4.4v20.4h-4.4zM1078.0 1290.3h4.4v16.3h-4.4zM1082.1 1290.3h4.4v32.7h-4.4zM1086.2 1290.3h4.4v32.7h-4.4zM1090.2 1298.5h4.4v28.6h-4.4zM1094.3 1298.5h4.4v28.6h-4.4zM1098.4 1298.5h4.4v28.6h-4.4zM1102.5 1290.3h4.4v36.8h-4.4zM1106.6 1290.3h4.4v28.6h-4.4zM1110.7 1290.3h4.4v28.6h-4.4zM1114.8 1282.2h4.4v36.8h-4.4zM1118.8 1282.2h4.4v20.4h-4.4zM1122.9 1286.2h4.4v16.3h-4.4zM1127.0 1274.0h4.4v40.8h-4.4zM1131.1 1274.0h4.4v40.8h-4.4zM1135.2 1278.1h4.4v20.4h-4.4zM1139.2 1278.1h4.4v20.4h-4.4zM1143.3 1274.0h4.4v24.5h-4.4zM1147.4 1265.8h4.4v28.6h-4.4zM1151.5 1265.8h4.4v36.8h-4.4zM1155.6 1274.0h4.4v28.6h-4.4zM1159.7 1274.0h4.4v32.7h-4.4zM1163.8 1269.9h4.4v36.8h-4.4zM1167.8 1265.8h4.4v20.4h-4.4zM1171.9 1265.8h4.4v28.6h-4.4zM1176.0 1265.8h4.4v32.7h-4.4zM1180.1 1278.1h4.4v20.4h-4.4zM1184.2 1274.0h4.4v28.6h-4.4zM1188.2 1274.0h4.4v28.6h-4.4zM1192.3 1274.0h4.4v32.7h-4.4zM1196.4 1269.9h4.4v36.8h-4.4zM1200.5 1269.9h4.4v36.8h-4.4zM1204.6 1261.8h4.4v53.1h-4.4zM1208.7 1261.8h4.4v53.1h-4.4zM1212.8 1265.8h4.4v24.5h-4.4zM1216.8 1269.9h4.4v20.4h-4.4zM1220.9 1269.9h4.4v24.5h-4.4zM1225.0 1265.8h4.4v28.6h-4.4zM1229.1 1265.8h4.4v28.6h-4.4zM1233.2 1265.8h4.4v28.6h-4.4zM1237.2 1269.9h4.4v32.7h-4.4zM1241.3 1265.8h4.4v36.8h-4.4zM1245.4 1265.8h4.4v40.8h-4.4zM1249.5 1278.1h4.4v28.6h-4.4zM1253.6 1269.9h4.4v32.7h-4.4zM1257.7 1269.9h4.4v32.7h-4.4zM1261.8 1265.8h4.4v36.8h-4.4zM1265.8 1257.7h4.4v32.7h-4.4zM1269.9 1257.7h4.4v49.0h-4.4zM1274.0 1274.0h4.4v32.7h-4.4zM1278.1 1269.9h4.4v36.8h-4.4zM1282.2 1269.9h4.4v20.4h-4.4zM1286.2 1274.0h4.4v28.6h-4.4zM1290.3 1282.2h4.4v20.4h-4.4zM1294.4 1282.2h4.4v24.5h-4.4zM1298.5 1265.8h4.4v40.8h-4.4zM1302.6 1265.8h4.4v36.8h-4.4zM1306.7 1269.9h4.4v32.7h-4.4zM1310.8 1269.9h4.4v28.6h-4.4zM1314.8 1265.8h4.4v20.4h-4.4zM1318.9 1265.8h4.4v24.5h-4.4zM1323.0 1265.8h4.4v36.8h-4.4zM1327.1 1265.8h4.4v36.8h-4.4zM1331.2 1269.9h4.4v36.8h-4.4zM1335.2 1269.9h4.4v36.8h-4.4zM1339.3 1274.0h4.4v36.8h-4.4zM1343.4 1269.9h4.4v40.8h-4.4zM1347.5 1257.7h4.4v49.0h-4.4zM1351.6 1257.7h4.4v49.0h-4.4zM1355.7 1257.7h4.4v49.0h-4.4zM1359.8 1282.2h4.4v24.5h-4.4zM1363.8 1278.1h4.4v28.6h-4.4zM1367.9 1274.0h4.4v24.5h-4.4zM1372.0 1269.9h4.4v28.6h-4.4zM1376.1 1269.9h4.4v28.6h-4.4zM1380.2 1274.0h4.4v24.5h-4.4zM1384.2 1274.0h4.4v24.5h-4.4zM1388.3 1265.8h4.4v32.7h-4.4zM1392.4 1265.8h4.4v28.6h-4.4zM1396.5 1265.8h4.4v28.6h-4.4zM1400.6 1249.5h4.4v44.9h-4.4zM1404.7 1249.5h4.4v57.2h-4.4zM1408.8 1265.8h4.4v40.8h-4.4zM1412.8 1269.9h4.4v24.5h-4.4zM1416.9 1265.8h4.4v28.6h-4.4zM1421.0 1265.8h4.4v24.5h-4.4zM1425.1 1257.7h4.4v28.6h-4.4zM1429.2 1257.7h4.4v28.6h-4.4zM1433.2 1257.7h4.4v28.6h-4.4zM1437.3 1257.7h4.4v36.8h-4.4zM1441.4 1278.1h4.4v16.3h-4.4zM1445.5 1261.8h4.4v40.8h-4.4zM1449.6 1261.8h4.4v40.8h-4.4zM1453.7 1253.6h4.4v36.8h-4.4zM1457.8 1253.6h4.4v32.7h-4.4zM1461.8 1261.8h4.4v32.7h-4.4zM1465.9 1261.8h4.4v32.7h-4.4zM1470.0 1261.8h4.4v20.4h-4.4zM1474.1 1261.8h4.4v20.4h-4.4zM1478.2 1261.8h4.4v44.9h-4.4zM1482.2 1269.9h4.4v36.8h-4.4zM1486.3 1278.1h4.4v49.0h-4.4zM1490.4 1278.1h4.4v69.4h-4.4zM1494.5 1323.0h4.4v36.8h-4.4zM1498.6 1286.2h4.4v73.5h-4.4zM1502.7 902.4h4.4v457.3h-4.4zM1506.8 902.4h4.4v392.0h-4.4zM1510.8 926.9h4.4v387.9h-4.4zM1514.9 1257.7h4.4v85.8h-4.4zM1519.0 1306.7h4.4v49.0h-4.4zM1523.1 1335.2h4.4v28.6h-4.4zM1527.2 1335.2h4.4v32.7h-4.4zM1531.2 1335.2h4.4v49.0h-4.4zM1535.3 1343.4h4.4v40.8h-4.4zM1539.4 1343.4h4.4v28.6h-4.4zM1543.5 1335.2h4.4v32.7h-4.4zM1547.6 1335.2h4.4v28.6h-4.4zM1551.7 1335.2h4.4v40.8h-4.4zM1555.8 1339.3h4.4v36.8h-4.4zM1559.8 1339.3h4.4v40.8h-4.4zM1563.9 1347.5h4.4v32.7h-4.4zM1568.0 1347.5h4.4v24.5h-4.4zM1572.1 1347.5h4.4v28.6h-4.4zM1576.2 1347.5h4.4v28.6h-4.4zM1580.2 1343.4h4.4v32.7h-4.4zM1584.3 1343.4h4.4v24.5h-4.4zM1588.4 1335.2h4.4v24.5h-4.4zM1592.5 1335.2h4.4v44.9h-4.4zM1596.6 1351.6h4.4v28.6h-4.4zM1600.7 1343.4h4.4v28.6h-4.4zM1604.7 1339.3h4.4v24.5h-4.4zM1608.8 1339.3h4.4v24.5h-4.4zM1612.9 1343.4h4.4v24.5h-4.4zM1617.0 1347.5h4.4v20.4h-4.4zM1621.1 1347.5h4.4v20.4h-4.4zM1625.2 1339.3h4.4v32.7h-4.4zM1629.2 1339.3h4.4v32.7h-4.4zM1633.3 1343.4h4.4v20.4h-4.4zM1637.4 1343.4h4.4v24.5h-4.4zM1641.5 1343.4h4.4v28.6h-4.4zM1645.6 1347.5h4.4v24.5h-4.4zM1649.7 1343.4h4.4v24.5h-4.4zM1653.7 1343.4h4.4v20.4h-4.4zM1657.8 1318.9h4.4v40.8h-4.4zM1661.9 1318.9h4.4v40.8h-4.4zM1666.0 1318.9h4.4v53.1h-4.4zM1670.1 1347.5h4.4v24.5h-4.4zM1674.2 1343.4h4.4v16.3h-4.4zM1678.2 1343.4h4.4v24.5h-4.4zM1682.3 1347.5h4.4v20.4h-4.4zM1686.4 1351.6h4.4v16.3h-4.4zM1690.5 1331.2h4.4v36.8h-4.4zM1694.6 1294.4h4.4v69.4h-4.4zM1698.7 1294.4h4.4v57.2h-4.4zM1702.7 1298.5h4.4v69.4h-4.4zM1706.8 1318.9h4.4v49.0h-4.4zM1710.9 1339.3h4.4v28.6h-4.4zM1715.0 1339.3h4.4v24.5h-4.4zM1719.1 1335.2h4.4v28.6h-4.4zM1723.2 1335.2h4.4v44.9h-4.4zM1727.2 1339.3h4.4v49.0h-4.4zM1731.3 1318.9h4.4v69.4h-4.4zM1735.4 1318.9h4.4v49.0h-4.4zM1739.5 1343.4h4.4v24.5h-4.4zM1743.6 1347.5h4.4v24.5h-4.4zM1747.7 1339.3h4.4v32.7h-4.4zM1751.7 1339.3h4.4v36.8h-4.4zM1755.8 1343.4h4.4v32.7h-4.4zM1759.9 1343.4h4.4v20.4h-4.4zM1764.0 1351.6h4.4v16.3h-4.4zM1768.1 1347.5h4.4v20.4h-4.4zM1772.2 1347.5h4.4v16.3h-4.4zM1776.2 1339.3h4.4v24.5h-4.4zM1780.3 1339.3h4.4v24.5h-4.4zM1784.4 1339.3h4.4v24.5h-4.4zM1788.5 1339.3h4.4v24.5h-4.4zM1792.6 1339.3h4.4v24.5h-4.4zM1796.7 1343.4h4.4v20.4h-4.4zM1800.7 1347.5h4.4v16.3h-4.4zM1804.8 1343.4h4.4v20.4h-4.4zM1808.9 1343.4h4.4v20.4h-4.4zM1813.0 1343.4h4.4v36.8h-4.4zM1817.1 1343.4h4.4v40.8h-4.4zM1821.2 1331.2h4.4v53.1h-4.4zM1825.2 1331.2h4.4v40.8h-4.4zM1829.3 1343.4h4.4v28.6h-4.4zM1833.4 1339.3h4.4v20.4h-4.4zM1837.5 1339.3h4.4v36.8h-4.4zM1841.6 1339.3h4.4v40.8h-4.4zM1845.7 1355.7h4.4v32.7h-4.4zM1849.7 1359.8h4.4v53.1h-4.4zM1853.8 1380.2h4.4v53.1h-4.4zM1857.9 1404.7h4.4v28.6h-4.4zM1862.0 1212.8h4.4v220.5h-4.4zM1866.1 955.5h4.4v465.5h-4.4zM1870.2 955.5h4.4v461.4h-4.4zM1874.2 1078.0h4.4v392.0h-4.4zM1878.3 1408.8h4.4v65.3h-4.4zM1882.4 1465.9h4.4v12.2h-4.4zM1886.5 1465.9h4.4v12.2h-4.4zM1890.6 1465.9h4.4v12.2h-4.4zM1894.7 1465.9h4.4v12.2h-4.4zM1898.7 1465.9h4.4v12.2h-4.4zM1902.8 1465.9h4.4v12.2h-4.4zM1906.9 1465.9h4.4v12.2h-4.4zM1911.0 1470.0h4.4v8.2h-4.4zM1915.1 1470.0h4.4v8.2h-4.4zM1919.2 1465.9h4.4v12.2h-4.4zM1923.2 1465.9h4.4v12.2h-4.4zM1927.3 1465.9h4.4v12.2h-4.4zM1931.4 1465.9h4.4v12.2h-4.4zM1935.5 1465.9h4.4v12.2h-4.4zM1939.6 1465.9h4.4v12.2h-4.4zM1943.7 1465.9h4.4v12.2h-4.4zM1947.7 1465.9h4.4v12.2h-4.4zM1951.8 1465.9h4.4v12.2h-4.4zM1955.9 1465.9h4.4v12.2h-4.4zM1960.0 1465.9h4.4v12.2h-4.4zM1964.1 1465.9h4.4v12.2h-4.4zM1968.2 1465.9h4.4v12.2h-4.4zM1972.2 1465.9h4.4v12.2h-4.4zM1976.3 1465.9h4.4v8.2h-4.4zM1980.4 1465.9h4.4v12.2h-4.4zM1984.5 1465.9h4.4v12.2h-4.4zM1988.6 1465.9h4.4v12.2h-4.4zM1992.7 1465.9h4.4v12.2h-4.4zM1996.7 1465.9h4.4v12.2h-4.4zM2000.8 1465.9h4.4v12.2h-4.4zM2004.9 1465.9h4.4v12.2h-4.4zM2009.0 1465.9h4.4v12.2h-4.4zM2013.1 1465.9h4.4v12.2h-4.4zM2017.2 1465.9h4.4v12.2h-4.4zM2021.2 1465.9h4.4v12.2h-4.4zM2025.3 1470.0h4.4v8.2h-4.4zM2029.4 1470.0h4.4v8.2h-4.4zM2033.5 1465.9h4.4v12.2h-4.4zM2037.6 1465.9h4.4v12.2h-4.4zM2041.7 1461.8h4.4v16.3h-4.4zM2045.7 1461.8h4.4v16.3h-4.4zM2049.8 1465.9h4.4v12.2h-4.4zM2053.9 1465.9h4.4v12.2h-4.4zM2058.0 1465.9h4.4v12.2h-4.4zM2062.1 1465.9h4.4v12.2h-4.4zM2066.2 1465.9h4.4v12.2h-4.4zM2070.2 1465.9h4.4v12.2h-4.4zM2074.3 1465.9h4.4v12.2h-4.4zM2078.4 1465.9h4.4v12.2h-4.4zM2082.5 1465.9h4.4v12.2h-4.4zM2086.6 1465.9h4.4v12.2h-4.4zM2090.7 1465.9h4.4v12.2h-4.4zM2094.8 1465.9h4.4v12.2h-4.4zM2098.8 1465.9h4.4v12.2h-4.4zM2102.9 1465.9h4.4v12.2h-4.4zM2107.0 1465.9h4.4v12.2h-4.4zM2111.1 1465.9h4.4v12.2h-4.4zM2115.2 1465.9h4.4v12.2h-4.4zM2119.2 1465.9h4.4v12.2h-4.4zM2123.3 1465.9h4.4v12.2h-4.4zM2127.4 1465.9h4.4v12.2h-4.4zM2131.5 1465.9h4.4v12.2h-4.4zM2135.6 1470.0h4.4v8.2h-4.4zM2139.7 1465.9h4.4v12.2h-4.4zM2143.8 1465.9h4.4v12.2h-4.4zM2147.8 1465.9h4.4v12.2h-4.4zM2151.9 1465.9h4.4v12.2h-4.4zM2156.0 1465.9h4.4v12.2h-4.4zM2160.1 1465.9h4.4v12.2h-4.4zM2164.2 1465.9h4.4v12.2h-4.4zM2168.2 1465.9h4.4v12.2h-4.4zM2172.3 1465.9h4.4v12.2h-4.4zM2176.4 1465.9h4.4v12.2h-4.4zM2180.5 1465.9h4.4v12.2h-4.4zM2184.6 1465.9h4.4v16.3h-4.4zM2188.7 1465.9h4.4v16.3h-4.4zM2192.8 1465.9h4.4v12.2h-4.4zM2196.8 1465.9h4.4v8.2h-4.4zM2200.9 1465.9h4.4v8.2h-4.4zM2205.0 1465.9h4.4v12.2h-4.4zM2209.1 1465.9h4.4v12.2h-4.4zM2213.2 1465.9h4.4v12.2h-4.4zM2217.2 1465.9h4.4v12.2h-4.4zM2221.3 1465.9h4.4v12.2h-4.4zM2225.4 1465.9h4.4v12.2h-4.4zM2229.5 1465.9h4.4v12.2h-4.4zM2233.6 1465.9h4.4v12.2h-4.4zM2237.7 1465.9h4.4v12.2h-4.4zM2241.8 1465.9h4.4v12.2h-4.4zM2245.8 1465.9h4.4v12.2h-4.4zM2249.9 1465.9h4.4v12.2h-4.4zM2254.0 1465.9h4.4v12.2h-4.4zM2258.1 1465.9h4.4v12.2h-4.4zM2262.2 1465.9h4.4v12.2h-4.4zM2266.2 1465.9h4.4v12.2h-4.4zM2270.3 1465.9h4.4v12.2h-4.4zM2274.4 1465.9h4.4v16.3h-4.4zM2278.5 1470.0h4.4v16.3h-4.4zM2282.6 1474.1h4.4v16.3h-4.4zM2286.7 1478.2h4.4v12.2h-4.4z"/>
<rect x="231.5" y="21" width="2061.3" height="8.5" fill="#000"/>
<rect x="231.5" y="1582" width="2061.3" height="8" fill="#000"/>
<rect x="235.5" y="25" width="4" height="1560" fill="#000"/>
<rect x="2285" y="25" width="4" height="1560" fill="#000"/>
<rect x="381.9" y="1570" width="4" height="13" fill="#000"/>
<rect x="528.3" y="1558" width="4" height="25" fill="#000"/>
<rect x="674.7" y="1570" width="4" height="13" fill="#000"/>
<rect x="821.1" y="1558" width="4" height="25" fill="#000"/>
<rect x="967.5" y="1570" width="4" height="13" fill="#000"/>
<rect x="1113.9" y="1558" width="4" height="25" fill="#000"/>
<rect x="1260.2" y="1570" width="4" height="13" fill="#000"/>
<rect x="1406.6" y="1558" width="4" height="25" fill="#000"/>
<rect x="1553.0" y="1570" width="4" height="13" fill="#000"/>
<rect x="1699.4" y="1558" width="4" height="25" fill="#000"/>
<rect x="1845.8" y="1570" width="4" height="13" fill="#000"/>
<rect x="1992.2" y="1558" width="4" height="25" fill="#000"/>
<rect x="2138.6" y="1570" width="4" height="13" fill="#000"/>
<rect x="1138.5" y="47.6" width="1104.5" height="136" fill="#fff" stroke="#000" stroke-width="4"/>
<rect x="1144.5" y="80.5" width="127" height="9" fill="#00DCFF"/>
<rect x="1144.5" y="145.5" width="127" height="8.5" fill="#FF0000"/>
</g>
<text x="1281" y="96" font-size="50" text-anchor="start" textLength="632" lengthAdjust="spacingAndGlyphs" fill="#1a0d05" stroke="#2a1608" stroke-width="0.9">Recycled polyurethane foam</text>
<text x="1281" y="162" font-size="50" text-anchor="start" textLength="950" lengthAdjust="spacingAndGlyphs" fill="#1a0d05" stroke="#2a1608" stroke-width="0.9">Polyurethane foam made of polyether 4110</text>
<g filter="url(#soft)" fill="#111">
<text x="234" y="1682" font-size="77" text-anchor="middle" textLength="172" lengthAdjust="spacingAndGlyphs">1400</text>
<text x="528.5" y="1682" font-size="77" text-anchor="middle" textLength="175" lengthAdjust="spacingAndGlyphs">1200</text>
<text x="823" y="1682" font-size="77" text-anchor="middle" textLength="171" lengthAdjust="spacingAndGlyphs">1000</text>
<text x="1113.5" y="1682" font-size="77" text-anchor="middle" textLength="129" lengthAdjust="spacingAndGlyphs">800</text>
<text x="1406" y="1682" font-size="77" text-anchor="middle" textLength="133" lengthAdjust="spacingAndGlyphs">600</text>
<text x="1698" y="1682" font-size="77" text-anchor="middle" textLength="127" lengthAdjust="spacingAndGlyphs">400</text>
<text x="1991" y="1682" font-size="77" text-anchor="middle" textLength="126" lengthAdjust="spacingAndGlyphs">200</text>
<text x="2286.5" y="1682" font-size="77" text-anchor="middle" textLength="43" lengthAdjust="spacingAndGlyphs">0</text>
<text x="1346.5" y="312.5" font-size="78" text-anchor="start" textLength="141.5" lengthAdjust="spacingAndGlyphs">O1s</text>
<text x="1798.5" y="288.3" font-size="78" text-anchor="start" textLength="139" lengthAdjust="spacingAndGlyphs">C1s</text>
<text x="1658" y="1037" font-size="78" text-anchor="start" textLength="148" lengthAdjust="spacingAndGlyphs">N1s</text>
<text x="841" y="1823" font-size="100" text-anchor="start" textLength="841" lengthAdjust="spacingAndGlyphs">Binding Energy(eV)</text>
<text transform="translate(97.3 1047) rotate(-90)" font-size="101" textLength="541" lengthAdjust="spacingAndGlyphs">Intensity(a.u.)</text>
</g>
<text y="1958.9" font-size="84"><tspan x="1133.4">(</tspan><tspan x="1160" y="1959.5" font-weight="bold" font-size="85" textLength="40" lengthAdjust="spacingAndGlyphs">a</tspan><tspan x="1201.9" y="1958.9">)</tspan></text>
</g>
<g id="chart-b">
<path d="M306.0 3135.6L307.5 3128.5L309.0 3116.4L310.4 3117.9L311.9 3126.4L313.4 3131.0L314.9 3137.9L316.4 3141.5L317.9 3138.4L319.3 3137.4L320.8 3124.1L322.3 3108.3L323.8 3122.8L325.3 3122.4L326.7 3124.5L328.2 3129.3L329.7 3119.8L331.2 3118.5L332.7 3129.8L334.2 3134.8L335.6 3126.9L337.1 3137.3L338.6 3132.6L340.1 3121.9L341.6 3131.1L343.1 3153.9L344.5 3131.1L346.0 3144.1L347.5 3151.3L349.0 3153.1L350.5 3128.2L351.9 3152.6L353.4 3139.5L354.9 3130.1L356.4 3129.2L357.9 3138.0L359.4 3134.1L360.8 3129.9L362.3 3144.9L363.8 3126.9L365.3 3117.8L366.8 3136.6L368.2 3140.4L369.7 3144.2L371.2 3121.6L372.7 3138.8L374.2 3137.9L375.7 3149.9L377.1 3120.6L378.6 3128.1L380.1 3126.5L381.6 3110.7L383.1 3116.4L384.5 3138.5L386.0 3126.0L387.5 3118.7L389.0 3135.0L390.5 3140.4L392.0 3140.5L393.4 3121.1L394.9 3124.0L396.4 3137.5L397.9 3122.0L399.4 3116.2L400.8 3132.6L402.3 3144.1L403.8 3116.0L405.3 3092.4L406.8 3100.2L408.3 3107.4L409.7 3117.4L411.2 3127.2L412.7 3120.4L414.2 3111.6L415.7 3118.7L417.2 3108.3L418.6 3114.5L420.1 3109.9L421.6 3143.5L423.1 3131.7L424.6 3108.1L426.0 3101.2L427.5 3106.2L429.0 3094.0L430.5 3099.9L432.0 3101.7L433.5 3118.5L434.9 3108.1L436.4 3099.9L437.9 3092.3L439.4 3091.9L440.9 3103.6L442.3 3104.0L443.8 3117.3L445.3 3100.9L446.8 3113.4L448.3 3108.4L449.8 3102.4L451.2 3079.1L452.7 3080.5L454.2 3103.5L455.7 3115.2L457.2 3103.1L458.6 3104.9L460.1 3092.8L461.6 3089.1L463.1 3085.1L464.6 3101.1L466.1 3097.8L467.5 3088.9L469.0 3085.4L470.5 3093.8L472.0 3092.8L473.5 3078.7L474.9 3102.2L476.4 3092.4L477.9 3084.9L479.4 3097.5L480.9 3094.0L482.4 3078.1L483.8 3079.2L485.3 3060.9L486.8 3058.5L488.3 3040.3L489.8 3071.8L491.3 3045.7L492.7 3066.9L494.2 3062.8L495.7 3062.5L497.2 3077.0L498.7 3099.0L500.1 3118.8L501.6 3147.1L503.1 3149.6L504.6 3163.1L506.1 3160.0L507.6 3182.0L509.0 3191.1L510.5 3191.6L512.0 3197.6L513.5 3202.7L515.0 3209.4L516.4 3216.2L517.9 3210.2L519.4 3205.6L520.9 3222.3L522.4 3199.3L523.9 3205.1L525.3 3233.1L526.8 3191.6L528.3 3202.8L529.8 3224.6L531.3 3202.5L532.7 3244.3L534.2 3198.3L535.7 3229.5L537.2 3242.7L538.7 3236.3L540.2 3222.1L541.6 3225.2L543.1 3212.6L544.6 3228.1L546.1 3211.1L547.6 3215.0L549.0 3231.5L550.5 3211.2L552.0 3213.6L553.5 3221.5L555.0 3205.9L556.5 3229.6L557.9 3227.3L559.4 3204.0L560.9 3215.1L562.4 3210.7L563.9 3209.7L565.4 3218.0L566.8 3211.0L568.3 3227.2L569.8 3213.0L571.3 3226.9L572.8 3219.9L574.2 3226.8L575.7 3213.4L577.2 3209.6L578.7 3202.2L580.2 3219.4L581.7 3228.0L583.1 3241.9L584.6 3235.6L586.1 3221.5L587.6 3213.2L589.1 3218.3L590.5 3215.0L592.0 3230.2L593.5 3228.3L595.0 3206.8L596.5 3203.2L598.0 3226.1L599.4 3219.8L600.9 3210.6L602.4 3224.6L603.9 3210.8L605.4 3207.3L606.8 3205.3L608.3 3188.0L609.8 3214.8L611.3 3199.4L612.8 3200.5L614.3 3200.0L615.7 3215.5L617.2 3210.5L618.7 3209.0L620.2 3190.2L621.7 3202.8L623.1 3191.6L624.6 3207.2L626.1 3212.5L627.6 3208.1L629.1 3229.5L630.6 3218.2L632.0 3214.5L633.5 3209.4L635.0 3204.2L636.5 3215.7L638.0 3220.1L639.5 3193.8L640.9 3212.9L642.4 3213.4L643.9 3216.7L645.4 3212.4L646.9 3192.2L648.3 3188.2L649.8 3221.1L651.3 3212.0L652.8 3189.3L654.3 3203.9L655.8 3200.9L657.2 3182.7L658.7 3173.6L660.2 3179.8L661.7 3202.1L663.2 3203.6L664.6 3200.4L666.1 3205.6L667.6 3210.4L669.1 3181.7L670.6 3193.9L672.1 3192.9L673.5 3187.0L675.0 3193.3L676.5 3199.6L678.0 3199.1L679.5 3185.7L680.9 3193.0L682.4 3222.6L683.9 3196.0L685.4 3180.7L686.9 3200.2L688.4 3208.9L689.8 3208.2L691.3 3190.6L692.8 3209.1L694.3 3195.4L695.8 3186.7L697.2 3191.4L698.7 3198.1L700.2 3208.2L701.7 3209.4L703.2 3202.1L704.7 3210.5L706.1 3203.8L707.6 3210.2L709.1 3187.5L710.6 3179.3L712.1 3204.1L713.6 3186.8L715.0 3192.4L716.5 3197.2L718.0 3193.2L719.5 3192.3L721.0 3211.9L722.4 3174.4L723.9 3200.2L725.4 3224.2L726.9 3203.3L728.4 3196.4L729.9 3204.0L731.3 3217.5L732.8 3187.8L734.3 3193.1L735.8 3193.3L737.3 3200.2L738.7 3197.6L740.2 3201.6L741.7 3191.1L743.2 3192.9L744.7 3186.2L746.2 3184.0L747.6 3189.3L749.1 3190.4L750.6 3179.1L752.1 3205.3L753.6 3194.1L755.0 3175.9L756.5 3198.8L758.0 3185.4L759.5 3193.5L761.0 3190.6L762.5 3191.1L763.9 3190.1L765.4 3181.1L766.9 3184.8L768.4 3206.7L769.9 3165.7L771.3 3178.0L772.8 3187.1L774.3 3171.4L775.8 3163.2L777.3 3198.9L778.8 3180.5L780.2 3198.9L781.7 3188.1L783.2 3178.3L784.7 3180.4L786.2 3182.3L787.7 3187.6L789.1 3180.2L790.6 3174.2L792.1 3172.4L793.6 3183.7L795.1 3179.8L796.5 3158.0L798.0 3155.8L799.5 3165.7L801.0 3156.9L802.5 3155.7L804.0 3149.0L805.4 3152.4L806.9 3159.0L808.4 3164.4L809.9 3153.1L811.4 3169.8L812.8 3150.2L814.3 3176.4L815.8 3159.6L817.3 3146.3L818.8 3132.2L820.3 3102.9L821.7 3122.5L823.2 3130.7L824.7 3148.0L826.2 3116.8L827.7 3141.4L829.1 3126.9L830.6 3137.4L832.1 3111.8L833.6 3137.2L835.1 3145.1L836.6 3160.5L838.0 3163.1L839.5 3154.8L841.0 3179.5L842.5 3188.4L844.0 3192.9L845.4 3197.1L846.9 3199.1L848.4 3187.6L849.9 3170.8L850.0 3167.1L851.4 3181.0L852.9 3165.9L854.3 3142.3L855.8 3119.6L856.0 3121.2L857.3 3114.5L858.8 3101.9L860.3 3088.3L861.8 3108.1L863.2 3102.8L864.7 3099.9L866.2 3101.2L867.0 3111.1L867.7 3136.4L869.2 3159.8L870.6 3169.0L872.1 3188.6L873.0 3197.0L873.6 3194.6L875.1 3234.2L876.6 3247.7L878.1 3283.8L879.0 3266.6L879.5 3267.1L881.0 3286.0L882.5 3283.7L884.0 3275.8L885.5 3284.2L886.9 3299.7L888.4 3306.6L889.9 3304.4L891.4 3316.3L892.9 3320.7L894.4 3311.4L895.8 3303.8L897.3 3297.4L898.8 3302.3L900.3 3305.5L901.8 3295.7L903.2 3295.5L904.7 3286.6L906.2 3271.5L907.7 3271.0L909.2 3288.3L910.7 3287.6L912.1 3296.7L913.6 3282.8L915.1 3287.4L916.6 3294.4L918.1 3292.5L919.5 3275.4L921.0 3275.8L922.5 3280.4L924.0 3270.0L925.5 3282.4L927.0 3292.0L928.4 3278.2L929.9 3299.8L931.4 3283.1L932.9 3278.4L934.4 3278.5L935.9 3273.8L937.3 3284.4L938.8 3283.5L940.3 3299.6L941.8 3293.2L943.3 3290.0L944.7 3282.3L946.2 3268.3L947.7 3279.1L949.2 3274.9L950.7 3291.7L952.2 3286.5L953.6 3301.6L955.1 3296.7L956.6 3295.3L958.1 3289.1L959.6 3287.0L961.0 3291.2L962.5 3294.8L964.0 3278.5L965.5 3286.3L967.0 3311.0L968.5 3288.3L969.9 3279.4L971.4 3274.2L972.9 3265.0L974.4 3289.8L975.9 3284.7L977.3 3284.0L978.8 3300.2L980.3 3310.6L981.8 3277.2L983.3 3288.1L984.8 3288.4L986.2 3284.7L987.7 3284.7L989.2 3279.4L990.7 3294.4L992.2 3288.2L993.6 3282.7L995.1 3290.9L996.6 3289.4L998.1 3283.7L999.6 3280.9L1001.1 3294.9L1002.5 3285.5L1004.0 3275.9L1005.5 3266.2L1007.0 3269.2L1008.5 3263.0L1010.0 3272.8L1011.4 3277.0L1012.9 3253.5L1014.4 3268.4L1015.9 3279.9L1017.4 3276.3L1018.8 3263.3L1020.3 3282.8L1021.8 3268.1L1023.3 3257.4L1024.8 3257.3L1026.3 3268.2L1027.7 3280.8L1029.2 3284.9L1030.7 3275.4L1032.2 3258.3L1033.7 3259.9L1035.1 3258.5L1036.6 3265.0L1038.1 3250.2L1039.6 3265.1L1041.1 3275.0L1042.6 3268.0L1044.0 3271.9L1045.5 3258.9L1047.0 3249.8L1048.5 3256.5L1050.0 3276.6L1051.4 3279.6L1052.9 3263.8L1054.4 3276.8L1055.9 3265.2L1057.4 3279.8L1058.9 3273.8L1060.3 3261.4L1061.8 3271.5L1063.3 3258.5L1064.8 3252.6L1066.3 3246.8L1067.7 3262.6L1069.2 3263.6L1070.7 3262.4L1072.2 3258.7L1073.7 3276.4L1075.2 3262.0L1076.6 3254.0L1078.1 3273.0L1079.6 3279.6L1081.1 3268.8L1082.6 3244.7L1084.1 3250.8L1085.5 3265.8L1087.0 3262.6L1088.5 3276.5L1090.0 3250.5L1091.5 3263.7L1092.9 3255.4L1094.4 3271.7L1095.9 3262.2L1097.4 3269.7L1098.9 3255.2L1100.4 3243.0L1101.8 3243.9L1103.3 3249.5L1104.8 3246.4L1106.3 3267.7L1107.8 3274.5L1109.2 3263.8L1110.7 3247.6L1112.2 3253.4L1113.7 3249.7L1115.2 3269.8L1116.7 3263.5L1118.1 3262.1L1119.6 3253.3L1121.1 3234.5L1122.6 3242.8L1124.1 3242.2L1125.5 3256.2L1127.0 3257.0L1128.5 3247.0L1130.0 3248.7L1131.5 3269.3L1133.0 3248.4L1134.4 3242.3L1135.9 3249.1L1137.4 3245.9L1138.9 3247.2L1140.4 3257.4L1141.8 3271.8L1143.3 3239.1L1144.8 3247.8L1146.3 3252.6L1147.8 3251.3L1149.3 3249.7L1150.7 3247.7L1152.2 3260.6L1153.7 3249.0L1155.2 3248.4L1156.7 3250.3L1158.2 3251.5L1159.6 3248.7L1161.1 3259.6L1162.6 3252.2L1164.1 3251.2L1165.6 3249.2L1167.0 3238.8L1168.5 3237.9L1170.0 3235.9L1171.5 3247.7L1173.0 3241.4L1174.5 3235.4L1175.9 3247.4L1177.4 3253.3L1178.9 3230.8L1180.4 3259.6L1181.9 3251.3L1183.3 3245.6L1184.8 3256.8L1186.3 3249.5L1187.8 3239.9L1189.3 3266.2L1190.8 3240.1L1192.2 3241.5L1193.7 3253.2L1195.2 3236.1L1196.7 3240.8L1198.2 3247.9L1199.6 3269.2L1201.1 3240.8L1202.6 3240.8L1204.1 3249.8L1205.6 3245.6L1207.1 3231.0L1208.5 3243.7L1210.0 3244.5L1211.5 3246.9L1213.0 3254.5L1214.5 3254.8L1215.9 3248.1L1217.4 3245.4L1218.9 3230.8L1220.4 3236.7L1221.9 3242.5L1223.4 3236.9L1224.8 3240.1L1226.3 3231.8L1227.8 3253.0L1229.3 3264.9L1230.8 3240.7L1232.3 3242.0L1233.7 3237.4L1235.2 3250.6L1236.7 3245.8L1238.2 3239.9L1239.7 3235.8L1241.1 3238.3L1242.6 3227.6L1244.1 3241.4L1245.6 3231.4L1247.1 3240.3L1248.6 3239.1L1250.0 3247.6L1251.5 3238.6L1253.0 3246.1L1254.5 3228.9L1256.0 3239.2L1257.4 3234.5L1258.9 3236.4L1260.4 3236.0L1261.9 3244.1L1263.4 3216.4L1264.9 3232.3L1266.3 3219.7L1267.8 3242.0L1269.3 3216.7L1270.8 3218.2L1272.3 3213.7L1273.7 3245.0L1275.2 3223.8L1276.7 3230.3L1278.2 3227.1L1279.7 3212.6L1281.2 3223.8L1282.6 3237.3L1284.1 3231.1L1285.6 3240.0L1287.1 3229.6L1288.6 3229.8L1290.0 3226.6L1291.5 3232.7L1293.0 3249.8L1294.5 3238.1L1296.0 3232.4L1297.5 3223.7L1298.9 3220.0L1300.4 3241.7L1301.9 3221.2L1303.4 3216.6L1304.9 3225.0L1306.4 3223.6L1307.8 3246.3L1309.3 3208.9L1310.8 3225.1L1312.3 3235.2L1313.8 3217.6L1315.2 3217.5L1316.7 3229.2L1318.2 3243.7L1319.7 3221.0L1321.2 3207.8L1322.7 3231.4L1324.1 3243.1L1325.6 3225.7L1327.1 3202.1L1328.6 3233.8L1330.1 3226.2L1331.5 3235.1L1333.0 3226.5L1334.5 3220.1L1336.0 3218.3L1337.5 3237.1L1339.0 3241.3L1340.4 3205.4L1341.9 3208.2L1343.4 3238.0L1344.9 3223.2L1346.4 3207.8L1347.8 3218.7L1349.3 3220.7L1350.8 3220.3L1352.3 3216.3L1353.8 3216.9L1355.3 3215.6L1356.7 3222.9L1358.2 3213.2L1359.7 3215.4L1361.2 3217.9L1362.7 3232.5L1364.1 3226.6L1365.6 3219.2L1367.1 3224.2L1368.6 3224.3L1370.1 3230.6L1371.6 3226.3L1373.0 3237.4L1374.5 3235.9L1376.0 3220.8L1377.5 3213.5L1379.0 3225.2L1380.5 3224.6L1381.9 3217.4L1383.4 3201.9L1384.9 3194.7L1386.4 3215.3L1387.9 3224.7L1389.3 3225.8L1390.8 3205.0L1392.3 3222.6L1393.8 3212.6L1395.3 3217.6L1396.8 3220.0L1398.2 3207.7L1399.7 3206.6L1401.2 3192.2L1402.7 3199.8L1404.2 3193.7L1405.6 3213.4L1407.1 3215.0L1408.6 3222.3L1410.1 3218.7L1411.6 3207.3L1413.1 3214.3L1414.5 3209.3L1416.0 3217.1L1417.5 3216.5L1419.0 3202.6L1420.5 3209.0L1421.9 3211.7L1423.4 3208.1L1424.9 3218.9L1426.4 3229.7L1427.9 3210.9L1429.4 3205.7L1430.8 3186.8L1432.3 3202.9L1433.8 3204.8L1435.3 3186.8L1436.8 3206.5L1438.2 3215.3L1439.7 3202.6L1441.2 3202.5L1442.7 3197.2L1444.2 3212.4L1445.7 3193.8L1447.1 3199.8L1448.6 3224.7L1450.1 3211.2L1451.6 3210.3L1453.1 3204.9L1454.6 3192.9L1456.0 3201.3L1457.5 3208.1L1459.0 3194.7L1460.5 3204.3L1462.0 3216.2L1463.4 3216.4L1464.9 3189.4L1466.4 3188.5L1467.9 3183.4L1469.4 3207.9L1470.9 3209.6L1472.3 3209.1L1473.8 3193.4L1475.3 3185.2L1476.8 3191.4L1478.3 3189.2L1479.7 3174.4L1481.2 3176.6L1482.7 3179.6L1484.2 3172.3L1485.7 3158.5L1487.2 3149.5L1488.6 3169.9L1490.1 3182.8L1491.6 3177.7L1493.1 3173.0L1494.6 3168.6L1496.0 3191.9L1497.5 3198.0L1499.0 3212.1L1500.5 3220.6L1502.0 3238.8L1503.5 3259.5L1504.9 3271.4L1506.4 3286.2L1507.9 3299.2L1509.4 3308.3L1510.9 3313.8L1512.3 3321.1L1513.8 3322.9L1515.3 3325.8L1516.8 3323.3L1518.3 3319.4L1518.5 3321.9L1519.8 3052.6L1520.0 3001.2L1521.2 2633.6L1522.3 2318.2L1522.7 2448.5L1524.2 2908.3L1524.5 3001.0L1525.7 3196.6L1526.5 3330.9L1527.2 3333.9L1528.7 3340.1L1530.1 3343.4L1531.6 3342.8L1533.1 3350.1L1534.6 3338.7L1536.1 3344.1L1537.5 3366.8L1539.0 3351.8L1540.5 3340.8L1542.0 3348.5L1543.5 3361.6L1545.0 3353.3L1546.4 3355.6L1547.9 3352.0L1549.4 3346.3L1550.9 3372.1L1552.4 3353.8L1553.8 3342.0L1555.3 3340.2L1556.8 3346.2L1558.3 3347.1L1559.8 3349.0L1561.3 3344.6L1562.7 3330.9L1564.2 3343.2L1565.7 3340.4L1567.2 3338.8L1568.7 3329.4L1570.1 3334.1L1571.6 3334.7L1573.1 3339.7L1574.6 3329.9L1576.1 3338.9L1577.6 3342.3L1579.0 3332.6L1580.5 3334.0L1582.0 3333.1L1583.5 3346.4L1585.0 3322.8L1586.4 3333.2L1587.9 3327.1L1589.4 3334.1L1590.9 3346.5L1592.4 3337.3L1593.9 3340.4L1595.3 3334.1L1596.8 3354.0L1598.3 3351.4L1599.8 3351.0L1601.3 3332.0L1602.8 3328.9L1604.2 3346.4L1605.7 3340.6L1607.2 3337.6L1608.7 3342.0L1610.2 3330.6L1611.6 3343.4L1613.1 3341.4L1614.6 3343.5L1616.1 3335.3L1617.6 3342.3L1619.1 3334.9L1620.5 3345.5L1622.0 3350.1L1623.5 3348.7L1625.0 3345.1L1626.5 3345.2L1627.9 3319.0L1629.4 3340.3L1630.9 3338.4L1632.4 3339.1L1633.9 3336.8L1635.4 3327.3L1636.8 3331.7L1638.3 3342.8L1639.8 3351.0L1641.3 3336.4L1642.8 3330.1L1644.2 3348.0L1645.7 3334.2L1647.2 3352.8L1648.7 3342.7L1650.2 3331.3L1651.7 3344.1L1653.1 3353.3L1654.6 3330.0L1656.1 3347.3L1657.6 3338.7L1659.1 3348.9L1660.5 3337.6L1662.0 3324.5L1663.5 3338.4L1665.0 3345.8L1666.5 3355.8L1668.0 3355.1L1669.4 3346.2L1670.9 3336.7L1672.4 3332.6L1673.9 3333.8L1675.4 3329.9L1676.9 3333.2L1678.3 3316.4L1679.8 3333.3L1681.3 3336.9L1682.8 3356.9L1684.3 3347.7L1685.7 3334.3L1687.2 3340.0L1688.7 3327.9L1690.2 3329.3L1691.7 3320.5L1693.2 3343.9L1694.6 3343.7L1696.1 3328.1L1697.6 3333.3L1699.1 3343.4L1700.6 3341.8L1702.0 3340.0L1703.5 3330.0L1705.0 3329.3L1706.5 3335.5L1708.0 3343.4L1709.5 3331.3L1710.9 3325.5L1712.4 3342.7L1713.9 3328.2L1715.4 3320.3L1716.9 3260.0L1718.3 3218.5L1719.8 3266.4L1721.3 3319.6L1722.8 3340.2L1724.3 3330.1L1725.8 3328.7L1727.2 3339.7L1728.7 3349.3L1730.2 3350.0L1731.7 3357.0L1733.2 3343.0L1734.6 3338.2L1736.1 3344.3L1737.6 3338.1L1739.1 3335.5L1740.6 3327.6L1742.1 3341.7L1743.5 3329.5L1745.0 3337.9L1746.5 3325.8L1748.0 3341.8L1749.5 3330.1L1751.0 3340.6L1752.4 3325.2L1753.9 3329.4L1755.4 3344.4L1756.9 3332.0L1758.4 3334.9L1759.8 3332.4L1761.3 3316.9L1762.8 3333.9L1764.3 3340.0L1765.8 3328.1L1767.3 3338.3L1768.7 3330.9L1770.2 3326.5L1771.7 3334.1L1773.2 3330.7L1774.7 3352.7L1776.1 3328.3L1777.6 3338.8L1779.1 3345.2L1780.6 3322.4L1782.1 3318.5L1783.6 3337.0L1785.0 3333.3L1786.5 3338.1L1788.0 3345.7L1789.5 3335.3L1791.0 3326.9L1792.4 3312.4L1793.9 3332.2L1795.4 3329.1L1796.9 3336.6L1798.4 3338.4L1799.9 3325.6L1801.3 3346.8L1802.8 3347.9L1804.3 3344.8L1805.8 3328.3L1807.3 3330.5L1808.7 3330.9L1810.2 3331.7L1811.7 3326.3L1813.2 3337.2L1814.7 3338.7L1816.2 3339.3L1817.6 3332.7L1819.1 3345.2L1820.6 3340.0L1822.1 3314.8L1823.6 3325.6L1825.1 3334.3L1826.5 3343.5L1828.0 3335.5L1829.5 3333.4L1831.0 3330.3L1832.5 3339.9L1833.9 3333.8L1835.4 3330.4L1836.9 3329.0L1838.4 3338.9L1839.9 3331.8L1841.4 3318.8L1842.8 3332.7L1844.3 3324.9L1845.8 3328.8L1847.3 3329.1L1848.8 3333.8L1850.2 3331.8L1851.7 3315.7L1853.2 3312.4L1854.7 3304.1L1856.2 3312.3L1857.7 3305.9L1859.1 3317.8L1860.6 3327.9L1862.0 3336.9L1862.1 3342.8L1863.6 3361.8L1865.1 3381.1L1866.5 3400.7L1868.0 3421.0L1868.0 3421.2L1869.5 3426.3L1871.0 3437.7L1872.5 3444.5L1874.0 3452.3L1875.4 3459.8L1876.9 3454.3L1878.4 3446.9L1879.0 3442.1L1879.9 3407.9L1881.4 3347.8L1882.5 3300.1L1882.8 3263.3L1884.3 3115.4L1885.5 2997.9L1885.8 2954.4L1887.3 2740.0L1888.5 2564.8L1888.8 2610.5L1890.3 2870.4L1891.0 3000.9L1891.7 3117.9L1893.2 3355.1L1893.5 3403.1L1894.7 3473.3L1895.5 3521.4L1896.2 3523.8L1897.7 3532.9L1899.2 3538.5L1900.6 3540.5L1902.1 3543.9L1903.6 3547.7L1905.1 3546.9L1906.6 3544.9L1908.0 3542.9L1909.5 3540.7L1911.0 3541.6L1912.5 3544.2L1914.0 3540.6L1915.5 3544.7L1916.9 3540.3L1918.4 3536.5L1919.9 3538.2L1921.4 3536.8L1922.9 3537.2L1924.3 3544.8L1925.8 3542.7L1927.3 3543.0L1928.8 3546.1L1930.3 3547.1L1931.8 3541.9L1933.2 3546.0L1934.7 3544.6L1936.2 3542.8L1937.7 3543.8L1939.2 3538.6L1940.6 3539.1L1942.1 3541.6L1943.6 3544.2L1945.1 3541.9L1946.6 3541.8L1948.1 3545.3L1949.5 3547.4L1951.0 3545.8L1952.5 3546.8L1954.0 3542.2L1955.5 3541.3L1956.9 3543.2L1958.4 3541.8L1959.9 3540.8L1961.4 3547.0L1962.9 3543.1L1964.4 3539.5L1965.8 3543.2L1967.3 3548.3L1968.8 3544.1L1970.3 3546.2L1971.8 3542.1L1973.3 3540.7L1974.7 3540.1L1976.2 3541.6L1977.7 3547.8L1979.2 3540.4L1980.7 3546.5L1982.1 3540.7L1983.6 3541.1L1985.1 3544.8L1986.6 3545.0L1988.1 3543.8L1989.6 3537.8L1991.0 3542.4L1992.5 3539.8L1994.0 3549.3L1995.5 3543.8L1997.0 3542.9L1998.4 3539.3L1999.9 3540.2L2001.4 3538.3L2002.9 3544.4L2004.4 3542.5L2005.9 3544.0L2007.3 3540.9L2008.8 3540.5L2010.3 3545.9L2011.8 3540.6L2013.3 3536.5L2014.7 3542.4L2016.2 3539.4L2017.7 3540.4L2019.2 3544.9L2020.7 3540.8L2022.2 3544.5L2023.6 3541.1L2025.1 3546.4L2026.6 3547.5L2028.1 3542.1L2029.6 3541.5L2031.0 3539.9L2032.5 3542.5L2034.0 3546.0L2035.5 3539.1L2037.0 3544.1L2038.5 3539.3L2039.9 3539.0L2041.4 3536.6L2042.9 3547.4L2044.4 3544.2L2045.9 3543.3L2047.4 3540.7L2048.8 3545.1L2050.3 3537.1L2051.8 3541.0L2053.3 3549.0L2054.8 3543.0L2056.2 3542.3L2057.7 3544.5L2059.2 3540.6L2060.7 3542.0L2062.2 3545.4L2063.7 3543.8L2065.1 3543.7L2066.6 3541.7L2068.1 3543.2L2069.6 3542.9L2071.1 3546.8L2072.5 3545.7L2074.0 3542.3L2075.5 3535.1L2077.0 3542.8L2078.5 3545.3L2080.0 3535.7L2081.4 3524.2L2082.9 3511.4L2084.4 3499.4L2085.9 3498.6L2087.4 3517.7L2088.8 3532.4L2090.3 3543.0L2091.8 3543.3L2093.3 3542.2L2094.8 3540.8L2096.3 3546.9L2097.7 3546.8L2099.2 3543.0L2100.7 3538.3L2102.2 3539.1L2103.7 3543.6L2105.1 3540.8L2106.6 3544.6L2108.1 3544.2L2109.6 3543.6L2111.1 3544.6L2112.6 3544.5L2114.0 3540.3L2115.5 3540.9L2117.0 3549.2L2118.5 3540.7L2120.0 3540.2L2121.5 3545.3L2122.9 3542.8L2124.4 3540.0L2125.9 3538.0L2127.4 3543.1L2128.9 3545.9L2130.3 3547.4L2131.8 3543.7L2133.3 3545.6L2134.8 3540.2L2136.3 3542.2L2137.8 3540.6L2139.2 3542.5L2140.7 3544.8L2142.2 3546.2L2143.7 3540.4L2145.2 3545.5L2146.6 3542.0L2148.1 3539.1L2149.6 3541.2L2151.1 3538.1L2152.6 3541.4L2154.1 3543.1L2155.5 3534.4L2157.0 3526.3L2158.5 3509.3L2160.0 3504.0L2161.5 3515.4L2162.9 3531.3L2164.4 3537.2L2165.9 3540.5L2167.4 3541.9L2168.9 3543.0L2170.4 3537.8L2171.8 3536.7L2173.3 3540.5L2174.8 3543.7L2176.3 3543.9L2177.8 3545.4L2179.2 3547.0L2180.7 3544.9L2182.2 3542.8L2183.7 3539.4L2185.2 3538.9L2186.7 3540.4L2188.1 3542.9L2189.6 3543.3L2191.1 3542.7L2192.6 3542.1L2194.1 3544.2L2195.6 3543.6L2197.0 3543.5L2198.5 3543.6L2200.0 3541.1L2201.5 3539.1L2203.0 3543.2L2204.4 3544.1L2205.9 3542.2L2207.4 3541.1L2208.9 3548.9L2210.4 3541.9L2211.9 3541.3L2213.3 3543.1L2214.8 3539.3L2216.3 3542.0L2217.8 3547.9L2219.3 3546.6L2220.7 3545.1L2222.2 3544.7L2223.7 3543.3L2225.2 3545.4L2226.7 3542.7L2228.2 3541.1L2229.6 3542.5L2231.1 3545.2L2232.6 3544.1L2234.1 3544.7L2235.6 3537.0L2237.0 3544.5L2238.5 3550.3L2240.0 3548.2L2241.5 3542.5L2243.0 3539.8L2244.5 3542.7L2245.9 3539.8L2247.4 3543.9L2248.9 3541.5L2250.4 3544.9L2251.9 3547.2L2253.3 3537.5L2254.8 3541.9L2256.3 3540.7L2257.8 3537.8L2259.3 3539.6L2260.8 3541.4L2262.2 3545.4L2263.7 3538.8L2265.2 3542.0L2266.7 3543.6L2268.2 3537.0L2269.7 3531.0L2271.1 3522.4L2272.6 3517.4L2274.1 3528.5L2275.6 3534.3L2277.1 3537.2L2278.5 3544.0L2280.0 3539.8L2281.5 3537.3L2283.0 3540.2L2284.5 3532.3L2286.0 3531.6L2287.4 3535.5L2288.9 3536.7L2290.4 3542.0L2291.9 3541.5L2293.4 3548.3L2294.8 3550.6L2296.3 3549.4L2297.8 3546.6L2299.3 3549.9L2300.8 3552.4L2302.3 3548.2L2303.7 3552.1L2305.2 3555.4L2306.7 3555.4L2308.2 3560.2" fill="none" stroke="#0F5CFF" stroke-width="7.5" stroke-linejoin="round" stroke-linecap="round"/>
<path d="M306.0 3339.7L307.5 3324.2L309.0 3327.8L310.4 3322.5L311.9 3331.8L313.4 3323.6L314.9 3334.8L316.4 3334.3L317.9 3338.0L319.3 3330.8L320.8 3318.8L322.3 3341.3L323.8 3332.8L325.3 3341.2L326.7 3337.1L328.2 3337.4L329.7 3347.0L331.2 3338.0L332.7 3343.5L334.2 3323.6L335.6 3336.4L337.1 3332.6L338.6 3331.5L340.1 3333.0L341.6 3336.1L343.1 3347.0L344.5 3322.8L346.0 3330.9L347.5 3328.9L349.0 3342.1L350.5 3333.8L351.9 3337.7L353.4 3332.7L354.9 3339.2L356.4 3343.8L357.9 3333.5L359.4 3334.2L360.8 3323.7L362.3 3334.0L363.8 3341.4L365.3 3331.6L366.8 3341.6L368.2 3320.3L369.7 3315.8L371.2 3319.6L372.7 3327.3L374.2 3332.8L375.7 3333.0L377.1 3332.8L378.6 3338.7L380.1 3331.0L381.6 3322.6L383.1 3321.1L384.5 3346.7L386.0 3318.9L387.5 3326.9L389.0 3343.5L390.5 3339.1L392.0 3327.1L393.4 3330.8L394.9 3338.9L396.4 3343.1L397.9 3327.6L399.4 3336.1L400.8 3335.2L402.3 3340.4L403.8 3343.9L405.3 3331.0L406.8 3318.9L408.3 3330.6L409.7 3344.3L411.2 3338.4L412.7 3332.5L414.2 3347.9L415.7 3325.5L417.2 3333.5L418.6 3325.7L420.1 3327.3L421.6 3328.5L423.1 3339.1L424.6 3322.9L426.0 3320.9L427.5 3313.4L429.0 3326.9L430.5 3323.3L432.0 3327.9L433.5 3318.0L434.9 3320.2L436.4 3331.9L437.9 3325.1L439.4 3328.5L440.9 3329.0L442.3 3321.9L443.8 3310.8L445.3 3327.6L446.8 3325.9L448.3 3330.3L449.8 3308.8L451.2 3305.6L452.7 3302.3L454.2 3310.7L455.7 3327.4L457.2 3327.1L458.6 3321.4L460.1 3321.3L461.6 3326.1L463.1 3318.8L464.6 3321.6L466.1 3320.5L467.5 3301.9L469.0 3310.6L470.5 3326.7L472.0 3316.2L473.5 3314.3L474.9 3310.8L476.4 3310.4L477.9 3322.3L479.4 3314.3L480.9 3305.6L482.4 3288.2L483.8 3303.2L485.3 3297.3L486.8 3295.5L488.3 3315.4L489.8 3319.5L491.3 3299.3L492.7 3315.0L494.2 3317.5L495.7 3310.6L497.2 3322.9L498.7 3311.2L500.1 3313.6L501.6 3320.0L503.1 3329.4L504.6 3352.5L506.1 3347.0L507.6 3350.5L509.0 3357.0L510.5 3370.7L512.0 3373.4L513.5 3386.1L515.0 3381.1L516.4 3375.0L517.9 3380.8L519.4 3387.4L520.9 3382.2L522.4 3390.5L523.9 3405.3L525.3 3391.0L526.8 3391.2L528.3 3402.2L529.8 3389.6L531.3 3384.3L532.7 3382.1L534.2 3392.8L535.7 3396.5L537.2 3391.7L538.7 3391.9L540.2 3401.5L541.6 3400.5L543.1 3382.4L544.6 3388.3L546.1 3391.6L547.6 3396.1L549.0 3390.0L550.5 3384.8L552.0 3385.1L553.5 3375.3L555.0 3385.7L556.5 3384.5L557.9 3391.1L559.4 3381.7L560.9 3383.1L562.4 3379.8L563.9 3377.9L565.4 3390.7L566.8 3385.0L568.3 3389.4L569.8 3379.2L571.3 3385.1L572.8 3373.8L574.2 3379.2L575.7 3381.0L577.2 3388.9L578.7 3387.6L580.2 3384.0L581.7 3390.6L583.1 3387.4L584.6 3388.5L586.1 3390.6L587.6 3384.6L589.1 3381.1L590.5 3385.1L592.0 3380.4L593.5 3384.8L595.0 3391.4L596.5 3390.6L598.0 3380.7L599.4 3371.4L600.9 3378.8L602.4 3380.5L603.9 3389.5L605.4 3380.7L606.8 3379.2L608.3 3386.6L609.8 3379.3L611.3 3379.4L612.8 3393.9L614.3 3395.7L615.7 3388.8L617.2 3384.5L618.7 3374.7L620.2 3383.7L621.7 3382.8L623.1 3383.1L624.6 3377.9L626.1 3380.2L627.6 3379.9L629.1 3383.2L630.6 3392.4L632.0 3386.5L633.5 3369.6L635.0 3370.9L636.5 3367.6L638.0 3372.3L639.5 3383.8L640.9 3385.1L642.4 3377.4L643.9 3381.9L645.4 3375.9L646.9 3369.1L648.3 3368.0L649.8 3372.0L651.3 3389.9L652.8 3373.7L654.3 3387.7L655.8 3393.0L657.2 3382.0L658.7 3380.2L660.2 3376.3L661.7 3379.5L663.2 3385.7L664.6 3382.1L666.1 3388.2L667.6 3391.4L669.1 3385.5L670.6 3383.8L672.1 3380.9L673.5 3383.2L675.0 3373.1L676.5 3381.6L678.0 3382.9L679.5 3374.7L680.9 3394.9L682.4 3377.4L683.9 3372.4L685.4 3381.0L686.9 3366.8L688.4 3371.1L689.8 3367.8L691.3 3370.6L692.8 3377.7L694.3 3382.6L695.8 3389.2L697.2 3388.4L698.7 3390.6L700.2 3386.9L701.7 3378.0L703.2 3387.7L704.7 3378.8L706.1 3374.9L707.6 3390.4L709.1 3388.9L710.6 3383.3L712.1 3386.2L713.6 3388.1L715.0 3371.8L716.5 3377.0L718.0 3371.4L719.5 3378.9L721.0 3375.4L722.4 3388.9L723.9 3386.4L725.4 3375.1L726.9 3378.5L728.4 3371.1L729.9 3378.1L731.3 3384.1L732.8 3382.9L734.3 3366.3L735.8 3374.0L737.3 3383.1L738.7 3383.1L740.2 3389.0L741.7 3372.6L743.2 3381.4L744.7 3376.1L746.2 3380.1L747.6 3383.2L749.1 3385.6L750.6 3376.8L752.1 3380.1L753.6 3371.6L755.0 3367.3L756.5 3381.2L758.0 3380.3L759.5 3367.8L761.0 3370.5L762.5 3378.3L763.9 3391.1L765.4 3390.1L766.9 3387.4L768.4 3368.0L769.9 3375.6L771.3 3382.9L772.8 3383.3L774.3 3383.3L775.8 3378.6L777.3 3391.9L778.8 3393.5L780.2 3381.2L781.7 3370.3L783.2 3389.2L784.7 3374.2L786.2 3380.6L787.7 3387.4L789.1 3366.3L790.6 3368.5L792.1 3364.5L793.6 3368.0L795.1 3367.2L796.5 3378.0L798.0 3370.4L799.5 3362.9L801.0 3369.3L802.5 3360.5L804.0 3356.6L805.4 3374.7L806.9 3356.4L808.4 3352.6L809.9 3356.3L811.4 3348.6L812.8 3338.2L814.3 3358.6L815.8 3350.1L817.3 3347.5L818.8 3348.2L820.3 3343.0L821.7 3340.2L823.2 3348.0L824.7 3365.5L826.2 3356.4L827.7 3352.5L829.1 3338.1L830.6 3347.6L832.1 3344.6L833.6 3359.5L835.1 3358.7L836.6 3361.6L838.0 3364.0L839.5 3362.6L841.0 3357.4L842.5 3373.4L844.0 3365.4L845.4 3365.8L846.9 3375.1L848.4 3369.1L849.9 3370.4L851.4 3372.7L852.9 3363.6L854.3 3357.8L855.8 3352.5L857.3 3354.2L858.8 3332.2L860.3 3347.2L861.8 3347.0L863.2 3347.7L864.7 3361.3L866.2 3370.0L867.7 3386.7L869.2 3402.6L870.6 3387.4L872.1 3403.9L873.6 3429.1L875.1 3431.3L876.6 3438.1L878.1 3431.1L879.5 3419.2L881.0 3420.3L882.5 3435.8L884.0 3442.5L885.5 3431.8L886.9 3431.8L888.4 3436.2L889.9 3422.3L891.4 3428.5L892.9 3444.9L894.4 3452.3L895.8 3436.5L897.3 3446.0L898.8 3432.2L900.3 3425.7L901.8 3414.9L903.2 3435.3L904.7 3431.5L906.2 3448.6L907.7 3439.0L909.2 3434.4L910.7 3419.8L912.1 3440.0L913.6 3432.5L915.1 3430.6L916.6 3416.2L918.1 3435.1L919.5 3441.2L921.0 3429.8L922.5 3432.0L924.0 3435.4L925.5 3440.0L927.0 3434.8L928.4 3444.9L929.9 3433.7L931.4 3427.6L932.9 3427.9L934.4 3413.3L935.9 3422.0L937.3 3438.1L938.8 3436.0L940.3 3426.9L941.8 3433.3L943.3 3418.5L944.7 3426.6L946.2 3435.5L947.7 3438.2L949.2 3428.0L950.7 3437.4L952.2 3447.3L953.6 3432.5L955.1 3436.8L956.6 3422.4L958.1 3415.4L959.6 3433.1L961.0 3433.6L962.5 3433.7L964.0 3428.4L965.5 3429.1L967.0 3437.5L968.5 3445.9L969.9 3433.7L971.4 3420.0L972.9 3438.3L974.4 3438.8L975.9 3438.1L977.3 3434.7L978.8 3449.1L980.3 3436.8L981.8 3436.0L983.3 3419.8L984.8 3424.7L986.2 3426.2L987.7 3430.7L989.2 3434.5L990.7 3427.4L992.2 3443.1L993.6 3427.6L995.1 3427.0L996.6 3433.0L998.1 3423.6L999.6 3433.9L1001.1 3437.6L1002.5 3431.1L1004.0 3445.1L1005.5 3436.0L1007.0 3434.2L1008.5 3425.7L1010.0 3418.4L1011.4 3424.5L1012.9 3428.6L1014.4 3428.2L1015.9 3436.7L1017.4 3416.4L1018.8 3419.7L1020.3 3417.0L1021.8 3438.3L1023.3 3430.3L1024.8 3427.3L1026.3 3423.2L1027.7 3436.4L1029.2 3430.6L1030.7 3432.8L1032.2 3417.9L1033.7 3436.6L1035.1 3436.8L1036.6 3436.5L1038.1 3441.7L1039.6 3432.7L1041.1 3430.4L1042.6 3436.7L1044.0 3436.2L1045.5 3430.9L1047.0 3431.7L1048.5 3428.4L1050.0 3436.0L1051.4 3439.7L1052.9 3433.5L1054.4 3445.2L1055.9 3424.2L1057.4 3427.4L1058.9 3443.5L1060.3 3431.8L1061.8 3419.7L1063.3 3438.9L1064.8 3438.1L1066.3 3424.3L1067.7 3435.2L1069.2 3425.9L1070.7 3420.5L1072.2 3428.3L1073.7 3428.1L1075.2 3423.1L1076.6 3427.2L1078.1 3424.0L1079.6 3430.4L1081.1 3431.7L1082.6 3436.9L1084.1 3429.8L1085.5 3421.5L1087.0 3420.0L1088.5 3427.6L1090.0 3442.1L1091.5 3440.4L1092.9 3428.6L1094.4 3437.2L1095.9 3425.1L1097.4 3436.8L1098.9 3430.7L1100.4 3436.4L1101.8 3437.4L1103.3 3430.8L1104.8 3433.4L1106.3 3424.6L1107.8 3429.2L1109.2 3439.1L1110.7 3462.2L1112.2 3443.1L1113.7 3432.3L1115.2 3423.0L1116.7 3435.2L1118.1 3419.2L1119.6 3420.0L1121.1 3429.2L1122.6 3419.7L1124.1 3435.9L1125.5 3437.1L1127.0 3424.1L1128.5 3420.8L1130.0 3415.0L1131.5 3412.6L1133.0 3425.0L1134.4 3429.0L1135.9 3427.0L1137.4 3425.4L1138.9 3419.0L1140.4 3423.6L1141.8 3411.8L1143.3 3418.5L1144.8 3431.0L1146.3 3432.0L1147.8 3418.7L1149.3 3416.4L1150.7 3428.7L1152.2 3434.6L1153.7 3412.2L1155.2 3413.9L1156.7 3420.4L1158.2 3428.5L1159.6 3415.8L1161.1 3422.6L1162.6 3418.5L1164.1 3435.7L1165.6 3426.7L1167.0 3419.3L1168.5 3416.9L1170.0 3426.3L1171.5 3426.1L1173.0 3413.0L1174.5 3419.0L1175.9 3410.4L1177.4 3411.7L1178.9 3409.0L1180.4 3407.8L1181.9 3412.2L1183.3 3411.3L1184.8 3421.3L1186.3 3425.9L1187.8 3419.1L1189.3 3411.1L1190.8 3423.0L1192.2 3406.5L1193.7 3402.2L1195.2 3421.0L1196.7 3425.1L1198.2 3427.2L1199.6 3419.5L1201.1 3410.0L1202.6 3413.5L1204.1 3422.3L1205.6 3414.8L1207.1 3413.0L1208.5 3408.2L1210.0 3408.6L1211.5 3423.0L1213.0 3423.8L1214.5 3411.8L1215.9 3409.6L1217.4 3413.3L1218.9 3422.0L1220.4 3411.9L1221.9 3415.9L1223.4 3403.8L1224.8 3406.6L1226.3 3419.8L1227.8 3426.1L1229.3 3412.6L1230.8 3411.6L1232.3 3423.3L1233.7 3417.7L1235.2 3414.6L1236.7 3421.7L1238.2 3421.3L1239.7 3427.1L1241.1 3426.5L1242.6 3416.3L1244.1 3417.1L1245.6 3418.3L1247.1 3409.4L1248.6 3409.8L1250.0 3424.0L1251.5 3409.6L1253.0 3423.1L1254.5 3422.6L1256.0 3418.4L1257.4 3422.4L1258.9 3423.1L1260.4 3428.1L1261.9 3418.2L1263.4 3416.6L1264.9 3416.7L1266.3 3431.5L1267.8 3428.6L1269.3 3414.0L1270.8 3414.9L1272.3 3413.3L1273.7 3417.6L1275.2 3420.3L1276.7 3435.0L1278.2 3410.1L1279.7 3422.7L1281.2 3423.5L1282.6 3414.6L1284.1 3416.5L1285.6 3415.0L1287.1 3418.2L1288.6 3425.8L1290.0 3409.9L1291.5 3425.1L1293.0 3418.4L1294.5 3428.4L1296.0 3424.1L1297.5 3427.9L1298.9 3424.7L1300.4 3427.1L1301.9 3420.9L1303.4 3413.0L1304.9 3421.8L1306.4 3424.7L1307.8 3434.3L1309.3 3408.4L1310.8 3413.8L1312.3 3425.6L1313.8 3411.7L1315.2 3414.8L1316.7 3432.8L1318.2 3432.0L1319.7 3414.9L1321.2 3426.8L1322.7 3429.1L1324.1 3425.9L1325.6 3422.5L1327.1 3420.8L1328.6 3412.9L1330.1 3413.4L1331.5 3422.6L1333.0 3420.7L1334.5 3431.4L1336.0 3419.3L1337.5 3401.4L1339.0 3412.0L1340.4 3419.8L1341.9 3421.5L1343.4 3419.5L1344.9 3412.9L1346.4 3427.3L1347.8 3416.4L1349.3 3422.1L1350.8 3417.6L1352.3 3409.6L1353.8 3426.0L1355.3 3403.6L1356.7 3408.2L1358.2 3419.8L1359.7 3416.6L1361.2 3422.9L1362.7 3418.9L1364.1 3415.0L1365.6 3432.3L1367.1 3420.5L1368.6 3416.8L1370.1 3410.6L1371.6 3411.3L1373.0 3421.4L1374.5 3423.2L1376.0 3419.2L1377.5 3413.5L1379.0 3421.7L1380.5 3407.8L1381.9 3413.0L1383.4 3415.9L1384.9 3412.0L1386.4 3417.8L1387.9 3413.9L1389.3 3411.6L1390.8 3429.1L1392.3 3426.3L1393.8 3427.6L1395.3 3420.6L1396.8 3424.8L1398.2 3425.1L1399.7 3427.8L1401.2 3436.4L1402.7 3420.6L1404.2 3419.5L1405.6 3418.2L1407.1 3394.1L1408.6 3402.6L1410.1 3415.9L1411.6 3422.5L1413.1 3415.3L1414.5 3424.9L1416.0 3428.8L1417.5 3417.5L1419.0 3427.1L1420.5 3432.4L1421.9 3424.2L1423.4 3412.2L1424.9 3426.4L1426.4 3419.4L1427.9 3415.2L1429.4 3418.2L1430.8 3414.6L1432.3 3424.4L1433.8 3425.1L1435.3 3427.6L1436.8 3424.0L1438.2 3413.6L1439.7 3415.6L1441.2 3423.7L1442.7 3416.7L1444.2 3437.1L1445.7 3421.3L1447.1 3413.6L1448.6 3424.8L1450.1 3425.0L1451.6 3419.1L1453.1 3416.4L1454.6 3420.5L1456.0 3424.4L1457.5 3424.6L1459.0 3417.2L1460.5 3420.4L1462.0 3424.4L1463.4 3424.6L1464.9 3398.4L1466.4 3406.8L1467.9 3411.2L1469.4 3415.1L1470.9 3418.8L1472.3 3424.5L1473.8 3423.7L1475.3 3418.2L1476.8 3417.9L1478.3 3429.9L1479.7 3416.8L1481.2 3420.2L1482.7 3431.6L1484.2 3426.9L1485.7 3410.1L1487.2 3423.8L1488.6 3424.1L1490.1 3426.0L1491.6 3435.7L1493.1 3435.2L1494.6 3430.6L1496.0 3439.5L1497.5 3441.1L1499.0 3440.9L1500.5 3444.3L1502.0 3446.8L1503.5 3448.5L1504.9 3452.6L1506.4 3459.5L1507.9 3462.5L1509.4 3464.7L1510.9 3470.1L1512.3 3471.1L1513.8 3473.0L1514.5 3473.8L1515.3 3458.2L1516.8 3429.4L1518.3 3400.5L1518.3 3399.1L1519.8 3301.4L1520.5 3249.5L1521.2 3211.1L1522.3 3151.1L1522.7 3175.3L1524.0 3250.8L1524.2 3269.2L1525.6 3399.2L1525.7 3402.2L1527.2 3434.6L1528.5 3465.8L1528.7 3463.8L1530.1 3468.4L1531.6 3471.5L1533.1 3476.9L1534.6 3478.5L1536.1 3472.0L1537.5 3480.2L1539.0 3472.1L1540.5 3461.6L1542.0 3457.6L1543.5 3475.3L1545.0 3471.5L1546.4 3466.8L1547.9 3465.6L1549.4 3463.9L1550.9 3475.2L1552.4 3471.3L1553.8 3478.6L1555.3 3471.3L1556.8 3458.5L1558.3 3471.3L1559.8 3469.3L1561.3 3468.5L1562.7 3477.4L1564.2 3470.7L1565.7 3475.4L1567.2 3471.5L1568.7 3466.5L1570.1 3471.7L1571.6 3467.9L1573.1 3475.4L1574.6 3476.3L1576.1 3471.7L1577.6 3473.2L1579.0 3473.7L1580.5 3469.6L1582.0 3474.2L1583.5 3470.2L1585.0 3473.0L1586.4 3466.4L1587.9 3469.6L1589.4 3472.4L1590.9 3467.0L1592.4 3467.4L1593.9 3467.3L1595.3 3473.2L1596.8 3467.8L1598.3 3471.6L1599.8 3478.2L1601.3 3473.9L1602.8 3463.1L1604.2 3469.1L1605.7 3475.6L1607.2 3470.3L1608.7 3475.4L1610.2 3474.8L1611.6 3473.2L1613.1 3469.7L1614.6 3467.7L1616.1 3468.7L1617.6 3470.5L1619.1 3473.1L1620.5 3473.2L1622.0 3469.6L1623.5 3470.5L1625.0 3472.5L1626.5 3463.2L1627.9 3464.9L1629.4 3465.8L1630.9 3468.7L1632.4 3469.1L1633.9 3469.1L1635.4 3466.1L1636.8 3472.9L1638.3 3472.8L1639.8 3463.1L1641.3 3468.8L1642.8 3465.3L1644.2 3477.6L1645.7 3470.6L1647.2 3468.3L1648.7 3470.7L1650.2 3469.9L1651.7 3470.3L1653.1 3478.2L1654.6 3473.8L1656.1 3475.1L1657.6 3477.3L1659.1 3467.5L1660.5 3477.8L1662.0 3476.2L1663.5 3476.3L1665.0 3467.9L1666.5 3473.8L1668.0 3473.9L1669.4 3468.8L1670.9 3481.3L1672.4 3476.4L1673.9 3470.5L1675.4 3471.6L1676.9 3475.6L1678.3 3477.5L1679.8 3475.1L1681.3 3477.6L1682.8 3479.5L1684.3 3466.8L1685.7 3467.2L1687.2 3465.9L1688.7 3470.4L1690.2 3478.1L1691.7 3475.9L1693.2 3466.8L1694.6 3468.4L1696.1 3475.7L1697.6 3469.8L1699.1 3470.0L1700.6 3472.5L1702.0 3462.7L1703.5 3472.7L1705.0 3473.7L1706.5 3474.3L1708.0 3467.1L1709.5 3466.2L1710.9 3467.3L1712.4 3471.4L1713.9 3469.3L1715.4 3457.8L1716.9 3443.1L1718.3 3434.5L1719.8 3443.5L1721.3 3460.2L1722.8 3477.7L1724.3 3471.6L1725.8 3477.4L1727.2 3480.5L1728.7 3470.4L1730.2 3469.2L1731.7 3471.2L1733.2 3467.1L1734.6 3465.4L1736.1 3468.0L1737.6 3474.7L1739.1 3470.0L1740.6 3469.6L1742.1 3468.6L1743.5 3464.0L1745.0 3476.6L1746.5 3461.6L1748.0 3465.2L1749.5 3473.0L1751.0 3465.1L1752.4 3472.4L1753.9 3477.9L1755.4 3468.5L1756.9 3471.1L1758.4 3466.0L1759.8 3472.2L1761.3 3472.2L1762.8 3472.3L1764.3 3478.0L1765.8 3475.0L1767.3 3478.2L1768.7 3475.8L1770.2 3466.1L1771.7 3470.9L1773.2 3473.8L1774.7 3464.7L1776.1 3475.8L1777.6 3473.0L1779.1 3473.0L1780.6 3467.2L1782.1 3470.4L1783.6 3472.6L1785.0 3469.9L1786.5 3471.1L1788.0 3461.0L1789.5 3475.1L1791.0 3467.4L1792.4 3459.3L1793.9 3463.9L1795.4 3465.9L1796.9 3472.7L1798.4 3467.4L1799.9 3471.4L1801.3 3466.8L1802.8 3480.6L1804.3 3476.4L1805.8 3481.2L1807.3 3468.6L1808.7 3473.1L1810.2 3467.3L1811.7 3472.7L1813.2 3475.1L1814.7 3464.2L1816.2 3463.7L1817.6 3464.1L1819.1 3462.5L1820.6 3465.8L1822.1 3465.6L1823.6 3463.0L1825.1 3469.8L1826.5 3473.8L1828.0 3465.4L1829.5 3466.8L1831.0 3470.5L1832.5 3470.0L1833.9 3467.4L1835.4 3474.1L1836.9 3476.1L1838.4 3475.4L1839.9 3470.9L1841.4 3480.4L1842.8 3481.8L1844.3 3471.2L1845.8 3470.0L1847.3 3476.6L1848.8 3468.6L1850.2 3472.0L1851.7 3471.8L1853.2 3467.7L1854.7 3469.1L1856.2 3463.2L1857.7 3466.6L1859.1 3460.8L1860.6 3480.7L1862.1 3484.3L1863.6 3485.4L1865.1 3486.4L1866.5 3491.1L1868.0 3496.7L1869.5 3501.5L1871.0 3506.3L1872.5 3505.9L1874.0 3508.6L1875.4 3509.5L1876.9 3504.3L1878.4 3491.7L1879.9 3481.1L1880.0 3481.3L1881.4 3442.3L1882.8 3405.7L1883.0 3402.2L1884.3 3346.8L1885.8 3286.9L1886.0 3279.8L1887.3 3232.3L1888.6 3181.8L1888.8 3189.7L1890.3 3267.6L1890.5 3277.7L1891.7 3385.0L1892.5 3451.4L1893.2 3481.4L1894.5 3536.0L1894.7 3536.8L1896.2 3544.2L1897.7 3550.8L1899.2 3551.3L1900.6 3551.9L1902.1 3552.5L1903.6 3554.7L1905.1 3556.2L1906.6 3554.7L1908.0 3552.7L1909.5 3552.5L1911.0 3553.4L1912.5 3556.1L1914.0 3555.1L1915.5 3554.0L1916.9 3552.8L1918.4 3555.1L1919.9 3554.8L1921.4 3554.0L1922.9 3554.1L1924.3 3556.6L1925.8 3554.4L1927.3 3556.5L1928.8 3556.6L1930.3 3554.6L1931.8 3555.4L1933.2 3554.1L1934.7 3552.7L1936.2 3553.3L1937.7 3552.5L1939.2 3554.4L1940.6 3554.2L1942.1 3554.9L1943.6 3555.5L1945.1 3549.5L1946.6 3553.3L1948.1 3551.3L1949.5 3553.6L1951.0 3552.7L1952.5 3553.8L1954.0 3556.1L1955.5 3551.9L1956.9 3553.6L1958.4 3554.0L1959.9 3551.1L1961.4 3554.3L1962.9 3554.3L1964.4 3553.2L1965.8 3552.7L1967.3 3558.7L1968.8 3554.6L1970.3 3551.1L1971.8 3551.9L1973.3 3553.1L1974.7 3553.3L1976.2 3553.7L1977.7 3552.4L1979.2 3554.4L1980.7 3553.5L1982.1 3551.7L1983.6 3552.2L1985.1 3553.1L1986.6 3555.2L1988.1 3555.1L1989.6 3553.7L1991.0 3553.9L1992.5 3554.3L1994.0 3557.2L1995.5 3553.8L1997.0 3554.5L1998.4 3555.3L1999.9 3552.8L2001.4 3553.9L2002.9 3554.3L2004.4 3553.3L2005.9 3554.7L2007.3 3555.8L2008.8 3556.1L2010.3 3554.1L2011.8 3554.2L2013.3 3557.7L2014.7 3553.2L2016.2 3553.9L2017.7 3555.5L2019.2 3554.6L2020.7 3555.1L2022.2 3554.5L2023.6 3555.2L2025.1 3556.3L2026.6 3554.2L2028.1 3554.2L2029.6 3554.0L2031.0 3553.4L2032.5 3553.8L2034.0 3552.2L2035.5 3554.7L2037.0 3556.9L2038.5 3557.3L2039.9 3556.6L2041.4 3553.0L2042.9 3556.0L2044.4 3553.5L2045.9 3553.6L2047.4 3556.8L2048.8 3553.1L2050.3 3554.9L2051.8 3554.8L2053.3 3553.9L2054.8 3552.6L2056.2 3554.3L2057.7 3553.4L2059.2 3555.4L2060.7 3556.3L2062.2 3552.3L2063.7 3552.7L2065.1 3553.3L2066.6 3552.1L2068.1 3551.8L2069.6 3553.7L2071.1 3553.7L2072.5 3551.4L2074.0 3552.5L2075.5 3554.6L2077.0 3552.3L2078.5 3551.9L2080.0 3555.2L2081.4 3554.2L2082.9 3547.1L2084.4 3544.5L2085.9 3547.5L2087.4 3547.9L2088.8 3551.1L2090.3 3552.5L2091.8 3554.5L2093.3 3550.3L2094.8 3549.6L2096.3 3551.3L2097.7 3555.1L2099.2 3554.2L2100.7 3551.3L2102.2 3554.1L2103.7 3555.3L2105.1 3553.9L2106.6 3553.4L2108.1 3554.5L2109.6 3556.0L2111.1 3554.7L2112.6 3554.9L2114.0 3554.1L2115.5 3553.4L2117.0 3552.4L2118.5 3554.0L2120.0 3553.6L2121.5 3553.5L2122.9 3555.3L2124.4 3555.1L2125.9 3555.5L2127.4 3551.9L2128.9 3554.3L2130.3 3553.3L2131.8 3552.5L2133.3 3552.4L2134.8 3555.5L2136.3 3555.7L2137.8 3553.2L2139.2 3552.0L2140.7 3553.6L2142.2 3553.3L2143.7 3556.4L2145.2 3552.4L2146.6 3550.6L2148.1 3552.9L2149.6 3553.9L2151.1 3554.2L2152.6 3555.1L2154.1 3556.9L2155.5 3552.3L2157.0 3548.8L2158.5 3544.6L2160.0 3546.8L2161.5 3550.3L2162.9 3551.3L2164.4 3554.8L2165.9 3554.3L2167.4 3556.3L2168.9 3555.1L2170.4 3552.5L2171.8 3552.6L2173.3 3551.4L2174.8 3550.7L2176.3 3553.7L2177.8 3555.4L2179.2 3557.3L2180.7 3554.7L2182.2 3553.6L2183.7 3552.2L2185.2 3555.1L2186.7 3555.0L2188.1 3553.2L2189.6 3554.8L2191.1 3555.1L2192.6 3551.3L2194.1 3554.4L2195.6 3554.5L2197.0 3553.4L2198.5 3553.2L2200.0 3556.5L2201.5 3557.0L2203.0 3557.4L2204.4 3552.9L2205.9 3552.5L2207.4 3555.1L2208.9 3552.5L2210.4 3552.4L2211.9 3550.9L2213.3 3556.2L2214.8 3556.4L2216.3 3555.1L2217.8 3554.5L2219.3 3553.4L2220.7 3553.2L2222.2 3554.8L2223.7 3553.1L2225.2 3555.6L2226.7 3553.7L2228.2 3552.5L2229.6 3555.7L2231.1 3554.3L2232.6 3554.8L2234.1 3553.6L2235.6 3550.4L2237.0 3554.0L2238.5 3552.1L2240.0 3555.1L2241.5 3552.0L2243.0 3550.5L2244.5 3553.8L2245.9 3554.8L2247.4 3554.3L2248.9 3552.2L2250.4 3554.9L2251.9 3552.1L2253.3 3552.7L2254.8 3552.6L2256.3 3553.1L2257.8 3555.2L2259.3 3553.4L2260.8 3554.6L2262.2 3555.3L2263.7 3551.6L2265.2 3551.3L2266.7 3551.9L2268.2 3549.6L2269.7 3547.2L2271.1 3540.8L2272.6 3543.7L2274.1 3547.7L2275.6 3550.2L2277.1 3550.4L2278.5 3553.1L2280.0 3553.1L2281.5 3554.7L2283.0 3554.1L2284.5 3555.1L2286.0 3553.6L2287.4 3556.1L2288.9 3551.0L2290.4 3551.5L2291.9 3554.4L2293.4 3551.9L2294.8 3554.6L2296.3 3552.9L2297.8 3554.7L2299.3 3554.2L2300.8 3555.0L2302.3 3556.7L2303.7 3557.0L2305.2 3557.0L2306.7 3561.3L2308.2 3559.6" fill="none" stroke="#FFC700" stroke-width="7.5" stroke-linejoin="round" stroke-linecap="round"/>
<rect x="234.6" y="2089.5" width="2075" height="1619.5" fill="none" stroke="#000" stroke-width="7.2"/>
<rect x="379.7" y="3693" width="6.4" height="13" fill="#000"/>
<rect x="527.6" y="3677.5" width="7" height="29" fill="#000"/>
<rect x="676.1" y="3693" width="6.4" height="13" fill="#000"/>
<rect x="824.0" y="3677.5" width="7" height="29" fill="#000"/>
<rect x="972.5" y="3693" width="6.4" height="13" fill="#000"/>
<rect x="1120.4" y="3677.5" width="7" height="29" fill="#000"/>
<rect x="1269.0" y="3693" width="6.4" height="13" fill="#000"/>
<rect x="1416.9" y="3677.5" width="7" height="29" fill="#000"/>
<rect x="1565.4" y="3693" width="6.4" height="13" fill="#000"/>
<rect x="1713.3" y="3677.5" width="7" height="29" fill="#000"/>
<rect x="1861.8" y="3693" width="6.4" height="13" fill="#000"/>
<rect x="2009.7" y="3677.5" width="7" height="29" fill="#000"/>
<rect x="2158.2" y="3693" width="6.4" height="13" fill="#000"/>
<rect x="907.8" y="2115.7" width="1374.3" height="135" fill="#fff" stroke="#000" stroke-width="3.8"/>
<rect x="906.5" y="2149.9" width="127" height="7.2" fill="#0F5CFF"/>
<rect x="906.5" y="2217" width="127" height="7" fill="#FFC700"/>
<text x="1045.5" y="2169.5" font-size="55.4" text-anchor="start" textLength="1228.5" lengthAdjust="spacingAndGlyphs">Silica aerogel-regenerated polyurethane synthetic foam</text>
<text x="1047" y="2236.5" font-size="55.4" text-anchor="start">Recycled polyurethane foam</text>
<text x="236.2" y="3809.5" font-size="84" text-anchor="middle" textLength="172.5" lengthAdjust="spacingAndGlyphs">1400</text>
<text x="532.6" y="3809.5" font-size="84" text-anchor="middle" textLength="172.5" lengthAdjust="spacingAndGlyphs">1200</text>
<text x="829.2" y="3809.5" font-size="84" text-anchor="middle" textLength="172.5" lengthAdjust="spacingAndGlyphs">1000</text>
<text x="1123.4" y="3809.5" font-size="84" text-anchor="middle" textLength="130" lengthAdjust="spacingAndGlyphs">800</text>
<text x="1418.3" y="3809.5" font-size="84" text-anchor="middle" textLength="130" lengthAdjust="spacingAndGlyphs">600</text>
<text x="1714.7" y="3809.5" font-size="84" text-anchor="middle" textLength="130" lengthAdjust="spacingAndGlyphs">400</text>
<text x="2010.6" y="3809.5" font-size="84" text-anchor="middle" textLength="130" lengthAdjust="spacingAndGlyphs">200</text>
<text x="2310" y="3809.5" font-size="84" text-anchor="middle" textLength="43.5" lengthAdjust="spacingAndGlyphs">0</text>
<text x="1346.5" y="2403" font-size="84" text-anchor="start" textLength="125" lengthAdjust="spacingAndGlyphs" font-weight="bold">Ols</text>
<text x="1834" y="2500.5" font-size="84" text-anchor="start" textLength="139" lengthAdjust="spacingAndGlyphs">C1s</text>
<text x="1682" y="3160" font-size="84" text-anchor="start" textLength="139" lengthAdjust="spacingAndGlyphs">N1s</text>
<text x="1930" y="3314.5" font-size="84" text-anchor="start" textLength="153.7" lengthAdjust="spacingAndGlyphs">Si2s</text>
<text x="2118.5" y="3223" font-size="84" text-anchor="start" textLength="162.5" lengthAdjust="spacingAndGlyphs">Si2p</text>
<g stroke="#000" stroke-width="4" fill="#000" stroke-linecap="round">
<line x1="2082.3" y1="3463" x2="2062" y2="3365"/><polygon points="2055.8,3332 2052.3,3373.7 2075,3369.4" stroke="none"/>
<line x1="2166" y1="3463" x2="2217" y2="3292"/><polygon points="2227.4,3257 2205.2,3294.4 2226.8,3300.2" stroke="none"/>
</g>
<text x="848" y="3961" font-size="102.5" text-anchor="start" textLength="848" lengthAdjust="spacingAndGlyphs">Binding Energy(eV)</text>
<text transform="translate(97.5 3141.5) rotate(-90)" font-size="104" textLength="549" lengthAdjust="spacingAndGlyphs">Intensity(a.u.)</text>
<text y="4106.9" font-size="84"><tspan x="1128.9">(</tspan><tspan x="1154.5" y="4107.5" font-weight="bold" font-size="90">b</tspan><tspan x="1205.3" y="4106.9">)</tspan></text>
</g>
</svg></body></html>
